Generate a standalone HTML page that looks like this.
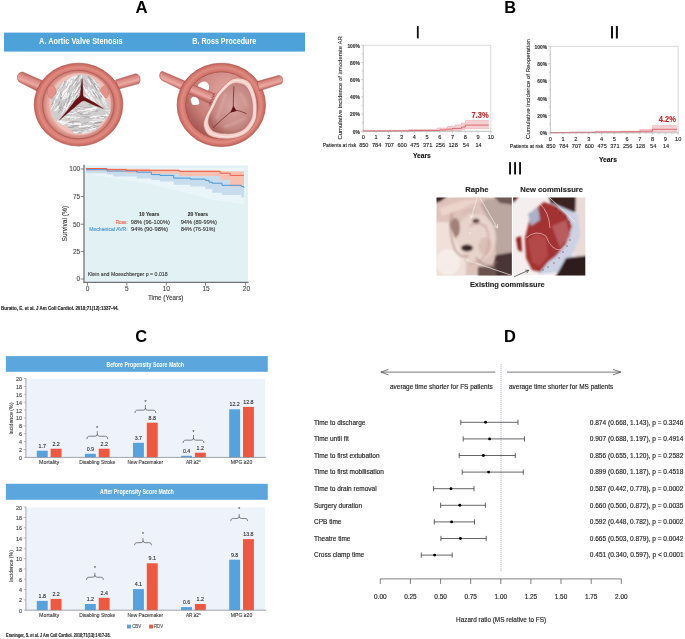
<!DOCTYPE html>
<html><head><meta charset="utf-8"><style>
html,body{margin:0;padding:0;background:#fff;}
body{width:685px;height:639px;overflow:hidden;}
svg{display:block;font-family:"Liberation Sans",sans-serif;will-change:transform;}
</style></head><body>
<svg width="685" height="639" viewBox="0 0 685 639">
<defs>
<linearGradient id="tubeG" x1="0" y1="0" x2="0" y2="1">
<stop offset="0" stop-color="#c96b63"/><stop offset="0.4" stop-color="#f0aaa0"/><stop offset="1" stop-color="#c7665e"/>
</linearGradient>
<radialGradient id="ringG" cx="0.5" cy="0.45" r="0.55">
<stop offset="0.8" stop-color="#e69388"/><stop offset="1" stop-color="#d77a70"/>
</radialGradient>
</defs>
<rect width="685" height="639" fill="#fff"/>

<!-- ============ PANEL A ============ -->
<text x="135.4" y="12.7" font-size="16.8" font-weight="bold" fill="#000">A</text>
<rect x="4" y="32.6" width="301" height="19" fill="#4da3d9"/>
<text x="39.1" y="43.8" font-size="8.2" font-weight="bold" fill="#fff" textLength="83.6" lengthAdjust="spacingAndGlyphs">A. Aortic Valve Stenosis</text>
<text x="192.3" y="43.8" font-size="8.2" font-weight="bold" fill="#fff" textLength="63.9" lengthAdjust="spacingAndGlyphs">B. Ross Procedure</text>

<!--VALVES_START-->
<defs>
<linearGradient id="tubeL" x1="0" y1="0" x2="0" y2="1">
<stop offset="0" stop-color="#c4665e"/><stop offset="0.35" stop-color="#f2aaa0"/><stop offset="0.7" stop-color="#dd867c"/><stop offset="1" stop-color="#bf5f57"/>
</linearGradient>
<linearGradient id="tg1" gradientUnits="userSpaceOnUse" x1="31.9" y1="76.1" x2="27.85" y2="86.25"><stop offset="0" stop-color="#bf6660"/><stop offset="0.25" stop-color="#d98a83"/><stop offset="0.65" stop-color="#eba9a2"/><stop offset="1" stop-color="#c26b64"/></linearGradient>
<linearGradient id="tg2" gradientUnits="userSpaceOnUse" x1="126" y1="76.6" x2="128.6" y2="86.1"><stop offset="0" stop-color="#bf6660"/><stop offset="0.25" stop-color="#d98a83"/><stop offset="0.65" stop-color="#eba9a2"/><stop offset="1" stop-color="#c26b64"/></linearGradient>
<linearGradient id="tg3" gradientUnits="userSpaceOnUse" x1="188.3" y1="82.4" x2="184.6" y2="91.2"><stop offset="0" stop-color="#bf6660"/><stop offset="0.25" stop-color="#d98a83"/><stop offset="0.65" stop-color="#eba9a2"/><stop offset="1" stop-color="#c26b64"/></linearGradient>
<linearGradient id="tg4" gradientUnits="userSpaceOnUse" x1="267.9" y1="78.5" x2="270.4" y2="87.2"><stop offset="0" stop-color="#bf6660"/><stop offset="0.25" stop-color="#d98a83"/><stop offset="0.65" stop-color="#eba9a2"/><stop offset="1" stop-color="#c26b64"/></linearGradient>
<radialGradient id="inner1" cx="0.5" cy="0.5" r="0.5">
<stop offset="0.6" stop-color="#f0c2ba"/><stop offset="0.88" stop-color="#e4a39b"/><stop offset="1" stop-color="#c8776f"/>
</radialGradient>
<radialGradient id="inner2" cx="0.6" cy="0.3" r="0.7">
<stop offset="0.15" stop-color="#dea09a"/><stop offset="0.7" stop-color="#c97e78"/><stop offset="1" stop-color="#a85a54"/>
</radialGradient>
<radialGradient id="ring" cx="0.5" cy="0.5" r="0.5">
<stop offset="0.8" stop-color="#cd7067"/><stop offset="0.9" stop-color="#e08a81"/><stop offset="1" stop-color="#c4635b"/>
</radialGradient>
<radialGradient id="graft" cx="0.55" cy="0.45" r="0.6">
<stop offset="0.1" stop-color="#d6a09c"/><stop offset="0.75" stop-color="#c48682"/><stop offset="1" stop-color="#a8625e"/>
</radialGradient>
<clipPath id="calc"><path d="M82.2 74.8 C85.0 74.8 87.4 75.2 89.7 76.4 C92.0 77.6 94.5 80.1 96.1 81.7 C97.7 83.3 98.7 84.4 99.3 86.0 C99.9 87.6 98.9 89.3 99.8 91.3 C100.7 93.2 103.1 95.8 104.6 97.7 C106.1 99.7 107.8 100.9 108.8 103.0 C109.8 105.1 110.4 108.5 110.4 110.4 C110.4 112.4 109.8 113.1 108.8 114.7 C107.8 116.3 106.0 118.6 104.6 120.0 C103.2 121.4 101.4 122.0 100.3 123.2 C99.2 124.4 99.1 126.2 98.2 127.4 C97.3 128.6 96.8 129.7 95.0 130.6 C93.2 131.5 90.1 132.3 87.6 132.8 C85.1 133.3 82.4 133.8 80.1 133.8 C77.8 133.8 75.3 133.5 73.7 132.8 C72.1 132.1 71.7 130.7 70.5 129.6 C69.3 128.5 67.9 127.3 66.3 126.4 C64.7 125.5 62.8 125.4 61.0 124.3 C59.2 123.2 57.1 121.6 55.6 120.0 C54.1 118.4 52.7 116.8 51.9 114.7 C51.1 112.6 51.0 109.5 50.9 107.2 C50.8 104.9 51.0 102.7 51.4 100.9 C51.8 99.1 52.6 97.8 53.5 96.6 C54.4 95.3 56.1 94.8 56.7 93.4 C57.3 92.0 56.5 89.7 57.2 88.1 C57.9 86.5 59.5 85.1 61.0 83.8 C62.5 82.5 64.3 81.3 66.3 80.1 C68.2 78.9 70.0 77.3 72.7 76.4 C75.4 75.5 79.4 74.8 82.2 74.8Z"/></clipPath>
<clipPath id="leafL"><path d="M40 65 L82.2 65 L82.2 79 L80 97 L59 120 L40 128Z"/></clipPath>
<clipPath id="leafR"><path d="M82.2 65 L120 65 L120 112 L103 109 L84 99 L82.2 79Z"/></clipPath>
<clipPath id="leafB"><path d="M40 128 L59 120 L80 99 L103 109 L120 112 L120 145 L40 145Z"/></clipPath>
<pattern id="streak" width="7" height="3.3" patternUnits="userSpaceOnUse">
<rect width="7" height="3.3" fill="#cbc9ca"/>
<path d="M0 1 q1.75 -0.9 3.5 0 t3.5 0" fill="none" stroke="#f6f5f5" stroke-width="1.05"/>
<path d="M0 2.5 q1.75 0.7 3.5 0 t3.5 0" fill="none" stroke="#9b999a" stroke-width="0.45"/>
</pattern>
</defs>
<!-- valve 1 tubes -->
<path d="M22.5 72 L42 80.5 L37 91 L19.4 82 Q16.2 79 17.6 75.4 Q19.5 72 22.5 72Z" fill="url(#tg1)" stroke="#a54e47" stroke-width="0.5"/>
<path d="M135.7 73.8 L115.5 80 L118.6 89 L138.8 83.6 Q141.2 80.5 139.6 76.4 Q138 73.8 135.7 73.8Z" fill="url(#tg2)" stroke="#a54e47" stroke-width="0.5"/>
<ellipse cx="78.5" cy="104.6" rx="44.3" ry="41.4" fill="url(#ring)" stroke="#ad554c" stroke-width="0.7"/>
<ellipse cx="78.4" cy="104.6" rx="35.8" ry="34.3" fill="url(#inner1)" stroke="#b05b53" stroke-width="0.9"/>
<ellipse cx="80" cy="104" rx="31" ry="31" fill="#f3c9c2" opacity="0.7"/>
<ellipse cx="51.7" cy="92" rx="4.4" ry="6.4" fill="#e3928a" stroke="#c2706a" stroke-width="0.5"/>
<ellipse cx="104.5" cy="92.3" rx="4.2" ry="6.2" fill="#e3928a" stroke="#c2706a" stroke-width="0.5"/>
<g clip-path="url(#calc)" fill="none" stroke-linecap="round">
<rect x="48" y="72" width="66" height="64" fill="#cfcdce"/>
<g clip-path="url(#leafL)">
<path d="M51.2 95.1 L52.4 93.9 L53.0 92.5 L53.4 90.9 L54.6 89.7 L54.9 88.1" stroke="#f7f6f6" stroke-width="0.74"/>
<path d="M55.6 108.0 L56.5 106.5 L57.7 105.1 L58.8 103.6 L59.3 101.9 L60.0 100.2" stroke="#8f8c8d" stroke-width="0.36"/>
<path d="M65.7 78.6 L66.3 77.8 L67.2 77.2 L67.1 76.1 L67.9 75.4 L68.5 74.6" stroke="#f7f6f6" stroke-width="1.03"/>
<path d="M44.0 103.1 L44.2 102.0 L44.6 101.1 L45.3 100.3 L45.7 99.3 L46.1 98.3" stroke="#8f8c8d" stroke-width="0.52"/>
<path d="M63.9 105.5 L64.4 104.1 L64.7 102.7 L66.0 101.7 L65.9 100.1 L66.8 98.9" stroke="#8f8c8d" stroke-width="0.39"/>
<path d="M51.4 87.7 L52.0 86.2 L53.0 84.9 L53.2 83.3 L54.3 82.0 L55.0 80.6" stroke="#8f8c8d" stroke-width="0.46"/>
<path d="M86.7 90.6 L86.8 89.1 L88.0 88.2 L88.6 87.0 L89.5 85.9 L90.0 84.6" stroke="#f7f6f6" stroke-width="0.93"/>
<path d="M53.7 80.8 L54.3 79.6 L54.9 78.4 L56.1 77.5 L56.2 76.0 L56.9 74.9" stroke="#f7f6f6" stroke-width="1.22"/>
<path d="M56.8 109.1 L57.5 107.8 L58.2 106.5 L58.4 105.0 L59.2 103.8 L59.8 102.4" stroke="#8f8c8d" stroke-width="0.59"/>
<path d="M48.9 101.7 L49.6 100.9 L50.2 100.0 L50.5 98.9 L50.7 97.8 L51.6 97.1" stroke="#f7f6f6" stroke-width="1.04"/>
<path d="M80.7 82.3 L81.4 81.0 L81.5 79.5 L82.9 78.6 L83.5 77.3 L84.2 76.1" stroke="#8f8c8d" stroke-width="0.45"/>
<path d="M51.1 91.7 L51.9 90.3 L52.7 89.0 L53.4 87.6 L54.3 86.3 L54.8 84.8" stroke="#f7f6f6" stroke-width="0.79"/>
<path d="M54.5 106.9 L54.7 106.1 L54.7 105.1 L55.1 104.5 L55.6 103.8 L56.0 103.0" stroke="#f7f6f6" stroke-width="1.21"/>
<path d="M73.8 76.8 L74.5 75.6 L75.3 74.5 L75.9 73.2 L77.1 72.3 L77.1 70.8" stroke="#f7f6f6" stroke-width="1.27"/>
<path d="M54.9 87.8 L56.0 86.8 L57.1 85.7 L57.7 84.4 L58.2 83.0 L58.5 81.5" stroke="#f7f6f6" stroke-width="0.80"/>
<path d="M72.0 85.9 L72.7 84.3 L74.0 83.0 L75.0 81.6 L75.7 80.0 L76.5 78.4" stroke="#8f8c8d" stroke-width="0.53"/>
<path d="M61.0 104.7 L61.6 103.6 L62.4 102.7 L62.9 101.6 L63.9 100.7 L64.7 99.7" stroke="#f7f6f6" stroke-width="1.26"/>
<path d="M89.4 85.3 L90.0 84.2 L90.5 83.1 L91.1 82.0 L92.1 81.1 L92.9 80.2" stroke="#8f8c8d" stroke-width="0.47"/>
<path d="M78.5 94.7 L79.2 94.1 L79.5 93.2 L79.9 92.4 L80.1 91.5 L80.2 90.5" stroke="#8f8c8d" stroke-width="0.43"/>
<path d="M86.6 92.3 L87.6 91.4 L88.0 90.2 L88.1 88.8 L88.7 87.7 L89.3 86.6" stroke="#8f8c8d" stroke-width="0.55"/>
<path d="M69.9 113.1 L70.5 111.2 L71.6 109.5 L72.2 107.6 L73.0 105.8 L74.8 104.5" stroke="#8f8c8d" stroke-width="0.48"/>
<path d="M72.3 78.7 L72.7 76.8 L73.6 75.2 L74.5 73.6 L75.3 71.9 L76.4 70.5" stroke="#f7f6f6" stroke-width="0.95"/>
<path d="M72.1 114.9 L72.8 113.9 L73.6 113.0 L73.8 111.7 L74.8 110.8 L75.0 109.6" stroke="#f7f6f6" stroke-width="1.01"/>
<path d="M54.6 110.8 L55.8 110.2 L55.7 109.0 L56.5 108.3 L57.2 107.5 L57.5 106.5" stroke="#f7f6f6" stroke-width="1.01"/>
<path d="M76.1 97.9 L76.3 96.9 L76.8 96.1 L77.6 95.5 L77.8 94.6 L78.3 93.8" stroke="#8f8c8d" stroke-width="0.58"/>
<path d="M68.5 98.9 L69.3 97.8 L69.8 96.4 L70.5 95.2 L71.1 93.9 L72.2 92.9" stroke="#8f8c8d" stroke-width="0.57"/>
<path d="M67.1 75.5 L67.7 74.2 L67.7 72.6 L68.4 71.2 L69.4 70.1 L69.7 68.6" stroke="#f7f6f6" stroke-width="0.74"/>
<path d="M77.9 93.7 L79.3 92.3 L80.1 90.6 L80.5 88.7 L82.1 87.4 L83.0 85.7" stroke="#f7f6f6" stroke-width="1.27"/>
<path d="M64.0 98.5 L64.3 96.5 L65.5 94.8 L66.5 93.1 L67.3 91.3 L68.1 89.5" stroke="#f7f6f6" stroke-width="1.13"/>
<path d="M58.3 112.7 L59.2 111.6 L60.1 110.6 L60.6 109.4 L60.8 108.0 L62.2 107.2" stroke="#8f8c8d" stroke-width="0.59"/>
<path d="M51.4 105.1 L51.3 104.1 L51.6 103.3 L52.3 102.7 L53.1 102.2 L53.4 101.4" stroke="#f7f6f6" stroke-width="0.79"/>
<path d="M75.8 81.2 L76.5 79.7 L77.8 78.6 L78.4 77.0 L78.8 75.4 L80.4 74.4" stroke="#8f8c8d" stroke-width="0.55"/>
<path d="M69.8 115.9 L69.9 114.9 L70.2 114.1 L70.8 113.4 L71.5 112.8 L71.4 111.7" stroke="#f7f6f6" stroke-width="1.02"/>
<path d="M48.3 97.4 L48.9 96.6 L49.4 95.8 L49.9 94.9 L50.8 94.2 L50.8 93.2" stroke="#f7f6f6" stroke-width="0.81"/>
<path d="M47.4 92.0 L48.5 91.4 L48.9 90.3 L49.1 89.2 L49.9 88.4 L50.8 87.6" stroke="#f7f6f6" stroke-width="1.19"/>
<path d="M64.5 97.3 L65.4 95.7 L66.4 94.2 L67.5 92.8 L67.8 90.9 L69.1 89.5" stroke="#8f8c8d" stroke-width="0.51"/>
<path d="M59.0 95.6 L59.4 94.8 L60.4 94.4 L60.4 93.4 L60.7 92.6 L61.0 91.8" stroke="#8f8c8d" stroke-width="0.57"/>
<path d="M62.1 85.2 L62.7 84.3 L63.0 83.2 L63.8 82.4 L64.1 81.3 L65.2 80.7" stroke="#8f8c8d" stroke-width="0.49"/>
<path d="M75.9 111.8 L76.1 110.6 L77.0 109.8 L77.6 108.8 L78.2 107.8 L78.5 106.6" stroke="#f7f6f6" stroke-width="0.70"/>
<path d="M48.1 96.2 L48.7 95.0 L49.6 94.0 L50.1 92.9 L51.0 91.9 L51.6 90.8" stroke="#8f8c8d" stroke-width="0.51"/>
<path d="M82.0 93.7 L83.1 92.9 L83.0 91.4 L84.1 90.5 L84.6 89.4 L84.7 88.0" stroke="#8f8c8d" stroke-width="0.57"/>
<path d="M75.5 94.3 L76.7 92.9 L77.5 91.3 L78.6 89.9 L79.4 88.3 L80.3 86.8" stroke="#8f8c8d" stroke-width="0.57"/>
<path d="M75.2 91.6 L75.8 90.7 L76.5 89.8 L76.7 88.8 L77.9 88.2 L78.2 87.1" stroke="#8f8c8d" stroke-width="0.51"/>
<path d="M69.3 88.6 L69.6 87.8 L69.8 87.0 L70.2 86.3 L70.7 85.7 L70.6 84.7" stroke="#8f8c8d" stroke-width="0.41"/>
<path d="M50.3 105.9 L51.6 104.7 L52.5 103.3 L52.9 101.6 L53.6 100.1 L54.5 98.7" stroke="#8f8c8d" stroke-width="0.54"/>
<path d="M72.4 93.1 L72.9 92.4 L73.8 91.8 L73.8 90.8 L74.5 90.2 L74.4 89.1" stroke="#f7f6f6" stroke-width="0.86"/>
<path d="M75.2 92.1 L76.1 90.8 L76.8 89.3 L77.6 87.9 L78.0 86.3 L79.5 85.2" stroke="#f7f6f6" stroke-width="1.29"/>
<path d="M59.1 71.6 L59.9 70.5 L60.1 69.0 L60.6 67.8 L61.1 66.5 L62.4 65.7" stroke="#f7f6f6" stroke-width="1.05"/>
<path d="M59.7 107.9 L61.2 106.5 L61.9 104.6 L63.1 103.1 L63.9 101.3 L64.4 99.4" stroke="#8f8c8d" stroke-width="0.47"/>
<path d="M41.3 103.4 L41.8 102.1 L42.3 100.8 L43.1 99.6 L43.7 98.4 L44.9 97.4" stroke="#f7f6f6" stroke-width="1.15"/>
<path d="M60.5 76.7 L61.5 75.1 L61.9 73.1 L62.9 71.5 L63.8 69.8 L65.2 68.4" stroke="#8f8c8d" stroke-width="0.44"/>
<path d="M57.2 93.6 L58.2 93.1 L58.1 92.1 L59.1 91.7 L58.9 90.6 L59.3 89.8" stroke="#f7f6f6" stroke-width="0.81"/>
<path d="M78.4 107.3 L79.1 105.6 L80.2 104.1 L81.1 102.5 L81.7 100.6 L82.7 99.1" stroke="#f7f6f6" stroke-width="1.14"/>
<path d="M72.9 100.9 L73.4 99.4 L75.0 98.4 L75.0 96.7 L76.0 95.4 L76.7 94.0" stroke="#f7f6f6" stroke-width="1.14"/>
<path d="M67.1 74.0 L68.1 72.8 L68.7 71.3 L69.3 69.8 L70.0 68.4 L70.8 67.0" stroke="#8f8c8d" stroke-width="0.47"/>
<path d="M73.6 111.7 L74.3 109.8 L75.3 108.1 L76.1 106.3 L77.3 104.6 L78.0 102.8" stroke="#f7f6f6" stroke-width="0.86"/>
<path d="M79.5 99.0 L80.3 97.5 L81.2 96.1 L81.9 94.5 L82.7 93.0 L83.2 91.4" stroke="#f7f6f6" stroke-width="1.28"/>
<path d="M59.4 108.4 L59.6 106.8 L60.3 105.4 L61.1 104.0 L61.9 102.7 L62.7 101.4" stroke="#8f8c8d" stroke-width="0.56"/>
<path d="M58.0 73.8 L58.5 73.2 L58.6 72.3 L59.1 71.6 L58.9 70.6 L59.7 70.0" stroke="#8f8c8d" stroke-width="0.56"/>
<path d="M87.3 90.2 L87.9 89.3 L88.7 88.5 L89.4 87.6 L90.1 86.8 L90.5 85.7" stroke="#8f8c8d" stroke-width="0.54"/>
<path d="M67.1 97.5 L67.0 96.5 L68.0 96.1 L68.2 95.2 L68.3 94.3 L68.5 93.5" stroke="#f7f6f6" stroke-width="1.08"/>
<path d="M57.4 81.4 L57.9 80.7 L58.1 79.8 L58.4 79.0 L59.2 78.4 L59.0 77.3" stroke="#f7f6f6" stroke-width="0.98"/>
<path d="M79.2 81.2 L79.9 79.5 L80.7 77.8 L82.2 76.5 L82.9 74.8 L83.4 72.9" stroke="#f7f6f6" stroke-width="1.00"/>
<path d="M66.9 87.6 L67.6 86.7 L67.5 85.4 L67.9 84.3 L68.7 83.5 L69.3 82.6" stroke="#8f8c8d" stroke-width="0.40"/>
<path d="M78.9 88.4 L80.3 87.5 L80.3 86.0 L81.4 85.0 L81.6 83.5 L82.2 82.2" stroke="#8f8c8d" stroke-width="0.42"/>
<path d="M74.1 78.8 L74.8 78.0 L75.5 77.2 L76.2 76.5 L76.0 75.2 L76.7 74.4" stroke="#f7f6f6" stroke-width="1.28"/>
<path d="M44.9 100.0 L45.8 99.5 L46.2 98.7 L46.5 97.9 L47.1 97.2 L47.5 96.4" stroke="#f7f6f6" stroke-width="0.81"/>
<path d="M82.2 83.8 L82.3 83.0 L82.7 82.2 L83.0 81.5 L83.3 80.7 L83.5 79.8" stroke="#f7f6f6" stroke-width="0.91"/>
<path d="M62.3 72.4 L63.4 70.8 L64.7 69.2 L65.6 67.5 L66.2 65.6 L66.8 63.7" stroke="#f7f6f6" stroke-width="0.92"/>
<path d="M64.5 75.2 L64.3 73.7 L65.2 72.8 L66.1 71.9 L66.7 70.8 L66.6 69.3" stroke="#f7f6f6" stroke-width="0.74"/>
<path d="M66.5 76.2 L66.8 74.5 L67.6 73.0 L69.0 71.8 L69.5 70.1 L69.9 68.5" stroke="#8f8c8d" stroke-width="0.43"/>
<path d="M46.4 94.7 L46.9 93.1 L48.0 91.7 L48.0 89.8 L49.0 88.4 L50.0 87.0" stroke="#8f8c8d" stroke-width="0.59"/>
<path d="M55.9 94.8 L57.0 93.8 L56.9 92.3 L58.1 91.5 L58.6 90.3 L59.3 89.1" stroke="#8f8c8d" stroke-width="0.50"/>
<path d="M57.3 98.2 L57.2 96.7 L57.9 95.7 L59.0 94.9 L59.1 93.6 L59.5 92.4" stroke="#f7f6f6" stroke-width="1.03"/>
<path d="M78.4 109.5 L78.7 107.5 L79.4 105.8 L80.3 104.2 L81.5 102.7 L82.5 101.2" stroke="#f7f6f6" stroke-width="0.84"/>
<path d="M68.5 100.1 L69.3 98.7 L69.9 97.2 L70.2 95.5 L71.6 94.4 L71.9 92.8" stroke="#8f8c8d" stroke-width="0.44"/>
<path d="M60.7 81.4 L61.1 80.4 L62.3 79.8 L62.5 78.6 L62.8 77.6 L63.4 76.6" stroke="#8f8c8d" stroke-width="0.48"/>
<path d="M71.2 109.9 L71.2 108.1 L72.2 106.9 L73.3 105.7 L74.0 104.3 L74.8 102.9" stroke="#f7f6f6" stroke-width="0.88"/>
<path d="M49.1 103.2 L50.3 101.7 L50.7 99.7 L52.1 98.2 L52.6 96.2 L53.4 94.4" stroke="#8f8c8d" stroke-width="0.59"/>
<path d="M61.4 110.4 L62.3 109.1 L62.8 107.7 L63.6 106.3 L64.3 105.0 L65.4 103.8" stroke="#8f8c8d" stroke-width="0.40"/>
<path d="M51.1 109.2 L51.9 107.8 L52.6 106.3 L53.9 105.2 L54.4 103.7 L54.7 102.0" stroke="#f7f6f6" stroke-width="0.94"/>
<path d="M71.1 95.4 L72.0 94.9 L72.1 93.9 L72.5 93.1 L72.9 92.3 L73.9 91.8" stroke="#f7f6f6" stroke-width="1.04"/>
<path d="M61.1 98.9 L61.4 96.9 L62.1 95.2 L63.5 93.9 L63.9 92.0 L64.5 90.3" stroke="#8f8c8d" stroke-width="0.46"/>
<path d="M69.0 82.1 L69.6 80.3 L70.4 78.6 L71.7 77.2 L72.7 75.6 L73.8 74.1" stroke="#f7f6f6" stroke-width="1.07"/>
<path d="M63.5 99.5 L64.2 98.8 L65.0 98.1 L64.7 96.9 L65.5 96.2 L66.3 95.5" stroke="#8f8c8d" stroke-width="0.40"/>
<path d="M73.1 115.7 L73.6 113.7 L75.3 112.4 L75.7 110.4 L77.1 108.9 L77.8 107.0" stroke="#8f8c8d" stroke-width="0.39"/>
<path d="M62.8 80.4 L63.4 79.2 L63.5 77.8 L64.1 76.7 L64.9 75.6 L65.6 74.5" stroke="#f7f6f6" stroke-width="0.77"/>
<path d="M68.0 107.5 L69.3 106.1 L70.4 104.5 L70.6 102.5 L72.2 101.3 L72.5 99.3" stroke="#8f8c8d" stroke-width="0.49"/>
<path d="M62.3 87.3 L62.8 86.1 L63.6 85.0 L64.0 83.8 L64.6 82.6 L64.9 81.3" stroke="#8f8c8d" stroke-width="0.47"/>
<path d="M69.4 108.8 L69.9 107.1 L71.0 105.7 L71.5 104.0 L72.3 102.5 L73.4 101.1" stroke="#f7f6f6" stroke-width="0.97"/>
<path d="M51.2 86.7 L52.5 85.6 L53.3 84.2 L53.8 82.7 L54.1 81.1 L55.3 80.0" stroke="#f7f6f6" stroke-width="1.27"/>
<path d="M70.7 114.0 L71.7 112.3 L72.1 110.2 L73.8 108.8 L74.3 106.8 L75.6 105.3" stroke="#8f8c8d" stroke-width="0.39"/>
<path d="M85.0 92.0 L85.7 91.4 L85.6 90.4 L86.7 90.0 L86.6 88.9 L87.4 88.4" stroke="#f7f6f6" stroke-width="1.00"/>
<path d="M64.6 75.2 L65.0 74.2 L65.3 73.1 L65.9 72.1 L66.4 71.1 L67.6 70.5" stroke="#8f8c8d" stroke-width="0.57"/>
<path d="M68.9 111.5 L69.4 110.7 L69.6 109.8 L70.5 109.2 L70.6 108.2 L71.1 107.4" stroke="#8f8c8d" stroke-width="0.38"/>
<path d="M79.6 79.9 L79.8 78.5 L81.0 77.8 L81.2 76.4 L81.6 75.2 L82.6 74.3" stroke="#f7f6f6" stroke-width="0.81"/>
<path d="M56.0 78.6 L57.2 77.3 L58.3 75.8 L58.8 74.1 L59.7 72.5 L60.2 70.8" stroke="#f7f6f6" stroke-width="0.72"/>
<path d="M63.1 109.4 L64.1 108.4 L64.0 106.8 L64.7 105.7 L65.7 104.8 L65.8 103.3" stroke="#f7f6f6" stroke-width="0.91"/>
<path d="M54.1 106.5 L54.6 105.6 L54.8 104.5 L55.7 103.7 L56.1 102.7 L56.3 101.6" stroke="#8f8c8d" stroke-width="0.41"/>
<path d="M46.9 100.7 L47.6 99.3 L48.0 97.7 L48.6 96.3 L49.1 94.8 L50.4 93.7" stroke="#8f8c8d" stroke-width="0.44"/>
<path d="M67.2 89.0 L67.6 87.1 L69.1 85.7 L69.3 83.6 L70.6 82.1 L71.4 80.4" stroke="#f7f6f6" stroke-width="0.74"/>
<path d="M56.1 77.1 L56.1 75.5 L56.8 74.2 L57.9 73.1 L58.5 71.8 L59.3 70.5" stroke="#8f8c8d" stroke-width="0.39"/>
<path d="M56.4 98.5 L56.7 97.7 L57.1 96.9 L56.8 95.9 L58.0 95.5 L58.3 94.7" stroke="#f7f6f6" stroke-width="1.15"/>
<path d="M56.2 91.9 L56.4 91.0 L57.1 90.3 L57.9 89.7 L58.3 88.9 L58.9 88.1" stroke="#8f8c8d" stroke-width="0.42"/>
<path d="M65.0 92.0 L65.6 90.4 L66.7 89.0 L67.8 87.6 L68.0 85.7 L69.4 84.5" stroke="#f7f6f6" stroke-width="0.86"/>
<path d="M69.0 108.6 L69.6 106.7 L70.9 105.2 L71.4 103.2 L72.2 101.5 L73.7 100.1" stroke="#8f8c8d" stroke-width="0.52"/>
<path d="M84.6 97.4 L85.1 96.1 L85.9 95.0 L86.2 93.6 L87.1 92.6 L87.6 91.3" stroke="#f7f6f6" stroke-width="0.83"/>
<path d="M54.6 83.4 L55.4 81.6 L56.3 80.0 L57.9 78.7 L58.3 76.8 L59.0 75.0" stroke="#f7f6f6" stroke-width="0.72"/>
<path d="M74.1 90.6 L74.3 88.8 L75.5 87.6 L76.1 86.1 L77.2 84.8 L78.0 83.4" stroke="#8f8c8d" stroke-width="0.37"/>
<path d="M85.7 88.8 L86.7 87.2 L87.6 85.4 L88.4 83.7 L90.0 82.3 L90.9 80.6" stroke="#8f8c8d" stroke-width="0.56"/>
<path d="M61.4 86.6 L62.4 86.1 L62.3 85.0 L62.8 84.2 L63.4 83.5 L63.4 82.5" stroke="#f7f6f6" stroke-width="0.87"/>
<path d="M66.3 85.4 L66.4 84.1 L67.3 83.2 L67.6 82.1 L67.7 80.7 L68.6 79.9" stroke="#f7f6f6" stroke-width="1.16"/>
<path d="M69.4 103.7 L70.6 102.8 L70.6 101.1 L71.9 100.2 L72.1 98.6 L72.6 97.3" stroke="#f7f6f6" stroke-width="1.16"/>
<path d="M59.2 69.7 L60.1 68.7 L60.2 67.1 L61.2 66.1 L61.7 64.8 L62.8 63.8" stroke="#f7f6f6" stroke-width="1.27"/>
<path d="M52.9 97.8 L53.3 96.2 L54.5 95.0 L54.8 93.3 L56.2 92.2 L56.9 90.7" stroke="#8f8c8d" stroke-width="0.51"/>
<path d="M60.5 98.6 L60.4 97.1 L61.7 96.4 L61.5 94.8 L62.3 93.8 L62.9 92.7" stroke="#8f8c8d" stroke-width="0.48"/>
<path d="M75.9 105.7 L76.5 104.8 L77.2 104.0 L77.7 103.0 L78.1 102.0 L78.3 100.9" stroke="#f7f6f6" stroke-width="0.79"/>
<path d="M77.3 85.5 L78.3 84.1 L79.4 82.8 L80.0 81.2 L80.4 79.5 L81.5 78.1" stroke="#8f8c8d" stroke-width="0.41"/>
<path d="M54.2 102.7 L54.4 100.9 L55.1 99.5 L56.0 98.1 L56.8 96.7 L57.8 95.3" stroke="#f7f6f6" stroke-width="0.90"/>
<path d="M74.9 113.8 L76.5 112.7 L76.5 110.9 L77.5 109.5 L78.8 108.3 L79.5 106.8" stroke="#8f8c8d" stroke-width="0.46"/>
<path d="M64.4 107.9 L65.0 107.2 L65.1 106.2 L65.9 105.6 L66.7 104.9 L67.0 104.1" stroke="#f7f6f6" stroke-width="1.08"/>
<path d="M53.8 90.2 L54.9 89.0 L55.7 87.7 L56.0 86.2 L56.9 84.9 L57.7 83.6" stroke="#f7f6f6" stroke-width="0.84"/>
<path d="M82.4 93.7 L83.4 92.2 L84.0 90.6 L84.8 89.1 L85.5 87.4 L86.1 85.9" stroke="#8f8c8d" stroke-width="0.37"/>
<path d="M73.6 102.7 L74.0 101.0 L75.0 99.7 L75.8 98.2 L76.7 96.8 L77.3 95.3" stroke="#8f8c8d" stroke-width="0.58"/>
<path d="M64.9 108.8 L65.8 107.3 L67.0 106.0 L67.0 104.0 L68.3 102.7 L68.7 101.0" stroke="#8f8c8d" stroke-width="0.59"/>
<path d="M53.7 87.6 L54.6 86.4 L55.1 85.0 L55.9 83.7 L56.8 82.5 L57.2 81.0" stroke="#f7f6f6" stroke-width="1.27"/>
<path d="M66.6 108.5 L66.7 107.1 L68.0 106.3 L68.1 104.9 L68.4 103.7 L69.2 102.6" stroke="#f7f6f6" stroke-width="0.71"/>
<path d="M61.8 96.5 L62.5 95.0 L63.2 93.5 L64.5 92.3 L65.4 91.0 L65.8 89.3" stroke="#f7f6f6" stroke-width="1.18"/>
<path d="M55.1 94.1 L55.5 93.3 L55.8 92.3 L56.1 91.4 L56.7 90.6 L56.8 89.6" stroke="#8f8c8d" stroke-width="0.44"/>
<path d="M78.7 95.5 L79.4 93.8 L80.5 92.4 L80.9 90.6 L82.4 89.4 L82.8 87.6" stroke="#8f8c8d" stroke-width="0.42"/>
<path d="M55.6 95.1 L56.0 93.8 L57.3 93.0 L57.5 91.6 L58.1 90.5 L58.7 89.3" stroke="#f7f6f6" stroke-width="0.96"/>
<path d="M74.0 93.0 L74.5 91.9 L74.4 90.5 L75.7 89.7 L76.3 88.7 L76.8 87.5" stroke="#f7f6f6" stroke-width="1.20"/>
<path d="M53.5 82.3 L53.6 81.5 L53.6 80.5 L53.9 79.8 L54.3 79.1 L54.8 78.4" stroke="#8f8c8d" stroke-width="0.44"/>
<path d="M72.0 113.9 L73.5 112.7 L74.1 111.1 L75.0 109.6 L75.8 108.0 L76.8 106.6" stroke="#8f8c8d" stroke-width="0.56"/>
<path d="M66.7 109.1 L67.1 107.6 L68.1 106.6 L68.5 105.2 L68.9 103.8 L69.6 102.5" stroke="#f7f6f6" stroke-width="1.00"/>
<path d="M56.7 110.0 L57.1 109.2 L57.6 108.3 L58.4 107.6 L58.1 106.4 L59.2 105.9" stroke="#f7f6f6" stroke-width="1.04"/>
<path d="M79.9 94.9 L80.9 94.0 L80.7 92.5 L81.8 91.7 L82.4 90.6 L82.4 89.2" stroke="#8f8c8d" stroke-width="0.52"/>
<path d="M68.7 76.9 L69.6 75.1 L70.9 73.6 L71.1 71.4 L72.6 70.0 L73.5 68.2" stroke="#f7f6f6" stroke-width="1.22"/>
<path d="M62.9 99.4 L63.1 97.9 L64.0 96.7 L64.6 95.5 L65.4 94.3 L66.3 93.1" stroke="#f7f6f6" stroke-width="1.20"/>
<path d="M64.3 98.5 L65.3 97.7 L65.5 96.5 L66.2 95.6 L66.3 94.4 L66.8 93.4" stroke="#f7f6f6" stroke-width="1.05"/>
<path d="M77.8 95.1 L78.3 94.5 L78.4 93.6 L78.4 92.6 L79.0 92.0 L79.1 91.1" stroke="#f7f6f6" stroke-width="1.25"/>
<path d="M73.4 94.0 L74.0 92.3 L74.8 90.8 L75.6 89.3 L76.5 87.8 L77.2 86.2" stroke="#8f8c8d" stroke-width="0.40"/>
<path d="M67.4 88.2 L68.3 86.7 L69.0 85.1 L70.5 84.0 L71.4 82.5 L72.0 80.9" stroke="#f7f6f6" stroke-width="1.19"/>
<path d="M73.2 85.8 L73.8 84.9 L74.2 83.9 L74.9 83.0 L75.6 82.1 L76.3 81.2" stroke="#f7f6f6" stroke-width="1.04"/>
<path d="M45.3 104.9 L46.4 103.5 L46.9 101.7 L47.3 99.9 L48.5 98.5 L49.5 97.0" stroke="#8f8c8d" stroke-width="0.60"/>
<path d="M62.9 94.5 L62.9 93.4 L63.3 92.6 L63.6 91.7 L64.1 90.9 L65.1 90.4" stroke="#f7f6f6" stroke-width="1.28"/>
<path d="M69.6 115.6 L70.7 115.1 L70.7 114.0 L71.6 113.4 L71.5 112.3 L71.9 111.4" stroke="#8f8c8d" stroke-width="0.53"/>
<path d="M80.1 86.4 L80.6 85.6 L80.8 84.7 L81.6 84.1 L81.5 83.0 L82.5 82.6" stroke="#8f8c8d" stroke-width="0.35"/>
<path d="M61.3 114.5 L62.3 113.0 L63.6 111.6 L63.9 109.8 L65.3 108.6 L65.8 106.8" stroke="#f7f6f6" stroke-width="0.92"/>
<path d="M65.1 91.2 L66.5 90.0 L66.9 88.4 L67.9 87.1 L68.6 85.7 L69.2 84.2" stroke="#f7f6f6" stroke-width="1.17"/>
<path d="M83.2 84.0 L83.7 82.6 L85.2 81.7 L85.7 80.3 L86.5 79.0 L86.7 77.5" stroke="#8f8c8d" stroke-width="0.59"/>
<path d="M75.4 85.0 L76.3 84.2 L76.4 82.9 L77.2 82.0 L77.7 80.9 L78.5 80.0" stroke="#8f8c8d" stroke-width="0.42"/>
<path d="M49.2 108.6 L50.0 107.6 L50.7 106.5 L50.5 104.9 L51.9 104.1 L52.5 103.0" stroke="#8f8c8d" stroke-width="0.49"/>
<path d="M73.1 109.0 L74.1 107.6 L74.4 105.7 L75.0 104.0 L76.3 102.7 L77.3 101.3" stroke="#f7f6f6" stroke-width="1.15"/>
<path d="M65.8 75.3 L66.3 73.9 L66.8 72.4 L67.6 71.1 L68.7 70.0 L69.5 68.6" stroke="#f7f6f6" stroke-width="0.75"/>
<path d="M80.5 88.8 L81.3 88.0 L81.8 87.0 L81.9 85.9 L82.4 84.9 L83.0 84.0" stroke="#f7f6f6" stroke-width="0.82"/>
<path d="M66.5 109.7 L66.9 108.5 L67.6 107.5 L67.8 106.2 L68.3 105.1 L69.7 104.5" stroke="#f7f6f6" stroke-width="0.76"/>
<path d="M77.7 95.2 L78.0 94.2 L78.6 93.4 L78.6 92.3 L79.1 91.5 L80.4 91.0" stroke="#8f8c8d" stroke-width="0.47"/>
<path d="M59.6 88.6 L60.9 87.3 L61.5 85.7 L62.4 84.2 L63.4 82.7 L63.5 80.8" stroke="#f7f6f6" stroke-width="0.82"/>
<path d="M46.8 99.3 L47.5 98.7 L47.5 97.7 L48.4 97.2 L48.7 96.4 L48.4 95.2" stroke="#8f8c8d" stroke-width="0.45"/>
</g>
<g clip-path="url(#leafR)">
<path d="M73.7 89.1 L74.3 90.0 L74.6 91.1 L75.5 91.9 L76.4 92.6 L77.0 93.5" stroke="#f7f6f6" stroke-width="1.28"/>
<path d="M115.7 102.2 L116.1 103.0 L116.1 104.0 L116.6 104.7 L117.2 105.3 L118.3 105.6" stroke="#8f8c8d" stroke-width="0.53"/>
<path d="M85.3 106.6 L85.3 107.7 L85.7 108.5 L86.4 109.1 L87.2 109.6 L87.5 110.4" stroke="#8f8c8d" stroke-width="0.38"/>
<path d="M99.1 81.2 L99.9 81.8 L100.4 82.6 L101.1 83.3 L101.2 84.4 L102.2 84.8" stroke="#8f8c8d" stroke-width="0.40"/>
<path d="M72.4 85.9 L73.1 86.7 L73.6 87.6 L74.9 88.0 L75.2 89.1 L76.1 89.8" stroke="#8f8c8d" stroke-width="0.56"/>
<path d="M100.1 95.4 L101.1 96.2 L101.6 97.3 L102.7 98.0 L103.3 99.0 L104.2 99.9" stroke="#8f8c8d" stroke-width="0.49"/>
<path d="M77.0 88.0 L77.8 88.7 L78.4 89.7 L78.6 91.0 L79.6 91.6 L80.4 92.4" stroke="#f7f6f6" stroke-width="0.89"/>
<path d="M117.0 97.0 L117.4 99.1 L118.8 100.6 L120.3 101.9 L121.2 103.7 L122.5 105.2" stroke="#f7f6f6" stroke-width="0.82"/>
<path d="M78.1 97.9 L79.9 99.1 L80.9 100.8 L81.5 102.8 L83.4 104.0 L83.9 106.0" stroke="#f7f6f6" stroke-width="1.29"/>
<path d="M76.1 82.3 L76.9 83.2 L77.0 84.7 L77.9 85.5 L78.9 86.3 L79.4 87.4" stroke="#8f8c8d" stroke-width="0.40"/>
<path d="M108.1 87.0 L108.7 87.8 L109.7 88.4 L110.4 89.1 L111.0 90.0 L111.1 91.1" stroke="#f7f6f6" stroke-width="0.86"/>
<path d="M85.7 84.9 L86.8 86.1 L88.1 87.2 L89.1 88.5 L89.5 90.2 L90.7 91.4" stroke="#8f8c8d" stroke-width="0.36"/>
<path d="M107.7 99.0 L109.0 100.3 L110.5 101.5 L110.8 103.5 L112.2 104.7 L112.9 106.4" stroke="#f7f6f6" stroke-width="0.81"/>
<path d="M107.6 100.0 L108.0 101.0 L109.1 101.5 L109.2 102.6 L109.9 103.4 L110.4 104.2" stroke="#f7f6f6" stroke-width="1.13"/>
<path d="M92.3 110.0 L93.3 110.8 L93.6 112.0 L94.9 112.6 L94.9 114.0 L95.5 115.0" stroke="#f7f6f6" stroke-width="1.01"/>
<path d="M95.2 94.0 L96.3 94.3 L96.8 94.9 L97.3 95.6 L97.7 96.3 L97.7 97.3" stroke="#f7f6f6" stroke-width="0.76"/>
<path d="M109.5 92.3 L110.0 92.9 L110.5 93.6 L110.8 94.4 L111.8 94.7 L111.6 95.8" stroke="#8f8c8d" stroke-width="0.36"/>
<path d="M87.7 79.4 L88.7 80.4 L89.2 81.8 L90.2 82.8 L90.7 84.2 L91.3 85.5" stroke="#f7f6f6" stroke-width="1.04"/>
<path d="M111.2 93.4 L112.7 94.6 L113.7 96.0 L114.4 97.7 L115.6 99.0 L116.8 100.4" stroke="#8f8c8d" stroke-width="0.54"/>
<path d="M100.0 81.3 L100.2 82.6 L101.1 83.5 L101.7 84.5 L102.5 85.5 L103.1 86.5" stroke="#f7f6f6" stroke-width="1.01"/>
<path d="M93.8 115.9 L94.2 116.9 L95.1 117.7 L95.6 118.7 L96.6 119.3 L96.9 120.4" stroke="#f7f6f6" stroke-width="0.71"/>
<path d="M73.5 90.1 L74.8 91.4 L75.6 92.9 L76.5 94.4 L77.5 95.8 L79.2 96.7" stroke="#8f8c8d" stroke-width="0.42"/>
<path d="M106.4 93.4 L107.5 94.4 L108.6 95.4 L109.3 96.7 L110.2 97.9 L110.6 99.4" stroke="#f7f6f6" stroke-width="0.88"/>
<path d="M110.2 89.3 L111.4 90.2 L112.5 91.3 L113.2 92.7 L114.0 94.0 L115.2 95.0" stroke="#f7f6f6" stroke-width="0.78"/>
<path d="M94.2 83.2 L95.0 84.0 L95.3 85.2 L95.7 86.3 L96.6 87.1 L97.2 88.0" stroke="#8f8c8d" stroke-width="0.40"/>
<path d="M101.9 98.1 L102.8 99.3 L103.8 100.4 L104.7 101.5 L105.6 102.7 L106.1 104.1" stroke="#f7f6f6" stroke-width="1.05"/>
<path d="M89.4 72.8 L90.2 74.5 L91.3 76.0 L92.5 77.3 L93.0 79.3 L94.6 80.4" stroke="#8f8c8d" stroke-width="0.39"/>
<path d="M75.5 85.2 L76.0 86.5 L76.7 87.6 L77.2 88.9 L78.5 89.6 L79.1 90.8" stroke="#8f8c8d" stroke-width="0.53"/>
<path d="M92.7 77.4 L93.5 78.4 L94.0 79.5 L94.7 80.5 L95.7 81.3 L96.2 82.5" stroke="#8f8c8d" stroke-width="0.54"/>
<path d="M86.7 97.3 L88.3 98.2 L88.6 100.0 L90.3 100.8 L90.6 102.6 L91.7 103.9" stroke="#f7f6f6" stroke-width="1.28"/>
<path d="M99.8 92.9 L101.0 94.1 L102.2 95.4 L103.1 96.9 L104.1 98.3 L104.9 99.9" stroke="#f7f6f6" stroke-width="0.93"/>
<path d="M100.4 91.6 L101.1 92.6 L102.0 93.4 L102.8 94.3 L103.7 95.1 L104.2 96.2" stroke="#f7f6f6" stroke-width="1.05"/>
<path d="M110.2 86.1 L110.8 87.9 L111.9 89.5 L112.9 91.1 L114.6 92.2 L115.5 93.9" stroke="#8f8c8d" stroke-width="0.35"/>
<path d="M83.4 78.8 L84.3 79.8 L85.3 80.8 L85.7 82.2 L86.9 83.1 L87.7 84.2" stroke="#8f8c8d" stroke-width="0.45"/>
<path d="M89.6 89.6 L90.5 90.4 L91.3 91.3 L92.4 92.1 L92.8 93.2 L93.5 94.2" stroke="#8f8c8d" stroke-width="0.49"/>
<path d="M91.1 114.0 L91.7 115.2 L92.2 116.6 L93.5 117.3 L94.2 118.6 L94.7 119.9" stroke="#f7f6f6" stroke-width="0.89"/>
<path d="M97.7 114.2 L97.9 115.8 L98.8 116.8 L99.5 118.1 L100.2 119.3 L101.1 120.4" stroke="#f7f6f6" stroke-width="0.79"/>
<path d="M91.1 85.2 L91.9 86.3 L92.3 87.7 L93.2 88.9 L94.2 89.9 L94.5 91.4" stroke="#8f8c8d" stroke-width="0.36"/>
<path d="M85.3 95.1 L86.6 95.7 L87.0 96.8 L87.2 98.1 L88.1 98.9 L88.7 99.9" stroke="#f7f6f6" stroke-width="1.00"/>
<path d="M104.1 88.9 L104.6 90.5 L105.9 91.5 L106.9 92.7 L108.0 93.9 L108.9 95.2" stroke="#8f8c8d" stroke-width="0.38"/>
<path d="M96.3 72.3 L97.3 73.3 L97.9 74.6 L99.4 75.3 L100.2 76.5 L100.4 78.1" stroke="#f7f6f6" stroke-width="1.13"/>
<path d="M102.7 80.2 L102.7 81.5 L103.6 82.3 L104.4 83.1 L105.0 84.0 L105.7 84.9" stroke="#f7f6f6" stroke-width="1.23"/>
<path d="M84.2 104.3 L85.3 105.1 L86.2 106.1 L86.3 107.7 L87.1 108.8 L88.3 109.5" stroke="#8f8c8d" stroke-width="0.55"/>
<path d="M88.5 87.7 L89.2 89.5 L90.9 90.7 L91.9 92.4 L92.8 94.2 L94.3 95.5" stroke="#f7f6f6" stroke-width="1.23"/>
<path d="M87.3 97.3 L87.8 98.3 L88.5 99.1 L88.5 100.5 L89.7 101.0 L90.1 102.0" stroke="#f7f6f6" stroke-width="1.02"/>
<path d="M96.5 86.0 L96.5 87.2 L97.4 87.6 L98.0 88.3 L98.5 89.0 L98.9 89.7" stroke="#f7f6f6" stroke-width="0.72"/>
<path d="M104.3 94.2 L105.3 94.7 L105.8 95.6 L105.9 96.7 L107.0 97.1 L107.3 98.1" stroke="#8f8c8d" stroke-width="0.55"/>
<path d="M92.6 77.7 L93.1 79.4 L94.7 80.4 L95.0 82.2 L96.3 83.3 L97.5 84.5" stroke="#f7f6f6" stroke-width="0.78"/>
<path d="M107.7 93.9 L109.0 95.3 L110.2 96.8 L110.9 98.5 L112.3 99.8 L112.9 101.7" stroke="#f7f6f6" stroke-width="1.01"/>
<path d="M103.8 88.6 L104.6 90.2 L105.7 91.5 L106.9 92.8 L107.8 94.2 L109.0 95.5" stroke="#f7f6f6" stroke-width="1.21"/>
<path d="M87.0 89.5 L87.7 90.2 L88.2 91.0 L88.9 91.7 L89.6 92.3 L89.9 93.2" stroke="#f7f6f6" stroke-width="0.78"/>
<path d="M107.1 94.8 L107.9 95.8 L108.5 96.9 L109.3 98.0 L110.6 98.6 L111.3 99.7" stroke="#f7f6f6" stroke-width="1.11"/>
<path d="M104.0 94.4 L104.7 95.5 L105.8 96.3 L106.1 97.7 L107.2 98.5 L107.7 99.7" stroke="#f7f6f6" stroke-width="0.77"/>
<path d="M98.9 110.1 L99.9 111.4 L100.7 112.9 L101.7 114.2 L102.5 115.7 L103.4 117.1" stroke="#f7f6f6" stroke-width="0.89"/>
<path d="M108.6 90.0 L109.5 91.5 L110.9 92.7 L111.8 94.3 L112.6 95.9 L113.9 97.2" stroke="#f7f6f6" stroke-width="1.20"/>
<path d="M108.4 96.9 L109.0 97.4 L110.0 97.8 L110.3 98.6 L110.9 99.2 L110.8 100.3" stroke="#f7f6f6" stroke-width="1.25"/>
<path d="M114.0 91.6 L114.7 93.1 L115.5 94.5 L116.9 95.5 L118.0 96.7 L118.2 98.6" stroke="#f7f6f6" stroke-width="1.26"/>
<path d="M93.3 103.3 L94.4 104.6 L95.8 105.9 L96.3 107.7 L97.5 109.0 L98.5 110.6" stroke="#8f8c8d" stroke-width="0.38"/>
<path d="M115.2 91.3 L116.6 92.4 L117.3 93.9 L117.9 95.5 L119.1 96.6 L120.1 97.9" stroke="#f7f6f6" stroke-width="0.74"/>
<path d="M95.5 85.4 L96.2 86.2 L96.4 87.3 L97.0 88.2 L97.9 88.8 L98.5 89.6" stroke="#f7f6f6" stroke-width="0.97"/>
<path d="M110.1 103.4 L111.3 104.0 L111.7 105.1 L112.5 106.0 L112.8 107.2 L113.7 108.0" stroke="#8f8c8d" stroke-width="0.39"/>
<path d="M96.7 99.6 L97.4 100.8 L98.8 101.5 L99.4 102.7 L100.1 103.8 L101.0 104.9" stroke="#f7f6f6" stroke-width="0.87"/>
<path d="M83.4 86.0 L84.0 87.2 L84.7 88.4 L85.5 89.4 L86.4 90.4 L87.3 91.5" stroke="#f7f6f6" stroke-width="1.30"/>
<path d="M113.6 91.9 L114.9 93.0 L116.2 94.1 L116.9 95.7 L117.9 97.0 L119.0 98.2" stroke="#f7f6f6" stroke-width="0.70"/>
<path d="M101.0 109.0 L102.1 110.1 L103.3 111.1 L104.2 112.4 L105.2 113.6 L106.2 114.8" stroke="#8f8c8d" stroke-width="0.56"/>
<path d="M100.3 79.0 L101.1 80.4 L102.7 81.2 L103.1 82.8 L103.9 84.2 L104.9 85.4" stroke="#f7f6f6" stroke-width="0.81"/>
<path d="M108.7 99.0 L109.6 99.9 L109.9 101.2 L111.1 101.8 L112.0 102.8 L112.3 104.1" stroke="#8f8c8d" stroke-width="0.55"/>
<path d="M88.8 107.1 L89.9 108.7 L91.3 110.1 L92.3 111.7 L93.1 113.5 L94.7 114.8" stroke="#8f8c8d" stroke-width="0.39"/>
<path d="M81.2 99.6 L81.4 100.5 L82.1 101.1 L82.2 102.2 L83.3 102.5 L83.2 103.8" stroke="#8f8c8d" stroke-width="0.55"/>
<path d="M100.7 85.1 L101.7 86.3 L102.6 87.6 L103.5 89.0 L104.2 90.4 L105.0 91.8" stroke="#8f8c8d" stroke-width="0.39"/>
<path d="M93.1 84.0 L94.1 85.2 L95.0 86.3 L95.7 87.7 L96.4 88.9 L96.8 90.4" stroke="#8f8c8d" stroke-width="0.57"/>
<path d="M93.0 117.3 L94.5 118.1 L94.9 119.7 L95.8 120.9 L97.0 122.0 L97.6 123.4" stroke="#8f8c8d" stroke-width="0.47"/>
<path d="M105.0 92.9 L106.4 93.4 L106.9 94.5 L107.2 95.8 L108.1 96.6 L109.1 97.4" stroke="#8f8c8d" stroke-width="0.44"/>
<path d="M100.3 93.0 L101.2 94.0 L102.3 95.1 L103.1 96.3 L103.3 97.8 L104.4 98.8" stroke="#f7f6f6" stroke-width="1.22"/>
<path d="M102.5 75.4 L103.1 76.7 L103.9 77.9 L105.0 78.9 L105.5 80.3 L106.7 81.2" stroke="#f7f6f6" stroke-width="1.05"/>
<path d="M89.1 76.3 L89.3 77.3 L90.1 77.8 L90.4 78.7 L90.9 79.4 L91.9 79.8" stroke="#8f8c8d" stroke-width="0.53"/>
<path d="M77.4 85.6 L77.5 87.1 L78.5 87.9 L79.1 89.1 L80.3 89.7 L80.6 91.1" stroke="#f7f6f6" stroke-width="0.84"/>
<path d="M107.6 77.6 L108.4 78.9 L108.9 80.4 L110.0 81.5 L110.5 83.0 L111.6 84.1" stroke="#8f8c8d" stroke-width="0.49"/>
<path d="M94.4 113.5 L95.3 114.1 L95.6 115.1 L96.2 115.9 L96.7 116.8 L97.8 117.2" stroke="#f7f6f6" stroke-width="1.14"/>
<path d="M99.7 111.3 L100.6 111.7 L100.7 112.7 L101.0 113.5 L102.0 113.8 L101.8 115.0" stroke="#8f8c8d" stroke-width="0.41"/>
<path d="M90.5 80.9 L91.9 82.1 L93.0 83.5 L94.0 85.1 L94.4 86.9 L96.0 88.1" stroke="#8f8c8d" stroke-width="0.42"/>
<path d="M103.5 95.9 L104.3 96.5 L104.8 97.4 L105.2 98.2 L105.7 99.1 L107.0 99.4" stroke="#f7f6f6" stroke-width="0.79"/>
<path d="M85.4 99.5 L86.3 101.0 L86.8 102.8 L87.9 104.2 L89.2 105.5 L90.1 107.0" stroke="#f7f6f6" stroke-width="1.21"/>
<path d="M82.9 96.0 L83.6 97.4 L84.5 98.6 L84.9 100.2 L86.0 101.3 L87.3 102.2" stroke="#f7f6f6" stroke-width="0.92"/>
<path d="M93.1 92.5 L94.1 93.3 L94.4 94.7 L95.3 95.5 L96.3 96.4 L96.7 97.7" stroke="#8f8c8d" stroke-width="0.36"/>
<path d="M83.0 83.8 L83.5 84.8 L84.3 85.6 L84.7 86.7 L85.4 87.6 L85.7 88.8" stroke="#8f8c8d" stroke-width="0.36"/>
<path d="M89.2 99.7 L90.4 101.2 L91.4 102.7 L92.7 104.0 L93.8 105.5 L94.5 107.3" stroke="#8f8c8d" stroke-width="0.58"/>
<path d="M105.7 94.0 L106.9 95.3 L107.8 96.8 L109.0 98.0 L109.8 99.5 L110.9 100.9" stroke="#f7f6f6" stroke-width="0.90"/>
<path d="M77.6 96.2 L78.5 97.3 L79.3 98.4 L80.0 99.6 L81.0 100.6 L81.9 101.7" stroke="#8f8c8d" stroke-width="0.46"/>
<path d="M93.0 91.4 L93.7 92.3 L94.2 93.4 L94.9 94.4 L95.2 95.6 L96.0 96.4" stroke="#8f8c8d" stroke-width="0.44"/>
<path d="M103.5 107.3 L103.7 108.3 L103.8 109.3 L104.9 109.6 L105.0 110.6 L105.8 111.2" stroke="#8f8c8d" stroke-width="0.37"/>
<path d="M84.1 99.6 L84.9 100.4 L85.4 101.4 L86.0 102.4 L86.3 103.6 L87.3 104.2" stroke="#f7f6f6" stroke-width="0.82"/>
<path d="M87.9 102.7 L88.3 104.3 L89.1 105.7 L90.3 106.8 L91.6 107.8 L91.9 109.5" stroke="#8f8c8d" stroke-width="0.44"/>
<path d="M96.6 73.9 L97.6 74.9 L98.2 76.3 L99.6 77.0 L100.3 78.3 L100.8 79.7" stroke="#8f8c8d" stroke-width="0.45"/>
<path d="M105.0 94.5 L105.8 95.0 L105.8 96.0 L106.5 96.6 L106.9 97.4 L107.3 98.1" stroke="#f7f6f6" stroke-width="0.98"/>
<path d="M71.9 85.1 L73.5 85.8 L73.9 87.3 L74.7 88.6 L75.8 89.6 L76.9 90.7" stroke="#f7f6f6" stroke-width="0.79"/>
<path d="M114.3 92.2 L115.2 93.8 L116.2 95.2 L117.2 96.7 L118.2 98.2 L119.2 99.6" stroke="#f7f6f6" stroke-width="1.14"/>
<path d="M84.0 88.6 L85.3 89.7 L86.0 91.4 L86.8 92.9 L88.2 94.0 L89.3 95.3" stroke="#f7f6f6" stroke-width="1.26"/>
<path d="M101.9 69.9 L102.6 71.1 L103.7 72.0 L104.0 73.4 L105.4 74.1 L105.8 75.6" stroke="#f7f6f6" stroke-width="0.72"/>
<path d="M100.5 71.0 L101.6 71.9 L101.8 73.5 L103.1 74.3 L104.1 75.3 L104.9 76.5" stroke="#8f8c8d" stroke-width="0.58"/>
<path d="M102.3 71.1 L102.7 72.9 L104.1 74.0 L105.0 75.5 L106.2 76.8 L106.9 78.5" stroke="#f7f6f6" stroke-width="0.89"/>
<path d="M117.2 96.9 L117.7 98.6 L118.8 99.8 L119.4 101.5 L121.0 102.4 L121.6 104.0" stroke="#f7f6f6" stroke-width="1.25"/>
<path d="M102.7 109.1 L103.3 109.9 L103.7 110.9 L104.5 111.7 L105.2 112.5 L105.3 113.7" stroke="#8f8c8d" stroke-width="0.42"/>
<path d="M116.0 102.1 L116.3 103.8 L117.1 105.0 L118.4 105.9 L118.9 107.3 L119.7 108.6" stroke="#f7f6f6" stroke-width="0.90"/>
<path d="M84.0 99.7 L84.6 100.5 L85.3 101.2 L85.8 102.1 L86.1 103.1 L87.2 103.5" stroke="#8f8c8d" stroke-width="0.44"/>
<path d="M91.4 108.9 L91.9 109.8 L93.0 110.2 L93.8 110.9 L94.4 111.8 L94.2 113.1" stroke="#f7f6f6" stroke-width="1.25"/>
<path d="M81.3 85.2 L81.4 86.3 L82.4 86.7 L82.7 87.6 L82.8 88.7 L83.5 89.3" stroke="#8f8c8d" stroke-width="0.59"/>
<path d="M93.0 71.3 L94.5 72.4 L95.1 74.1 L96.3 75.4 L97.2 76.9 L98.5 78.2" stroke="#f7f6f6" stroke-width="1.29"/>
<path d="M80.6 93.8 L81.5 94.4 L81.8 95.3 L82.5 95.9 L82.6 97.0 L83.6 97.5" stroke="#8f8c8d" stroke-width="0.48"/>
<path d="M91.1 76.5 L92.3 77.3 L93.3 78.4 L93.4 80.0 L94.3 81.1 L95.2 82.1" stroke="#f7f6f6" stroke-width="0.81"/>
<path d="M103.3 75.4 L103.9 76.0 L104.2 76.8 L104.9 77.4 L105.7 77.9 L105.6 79.0" stroke="#8f8c8d" stroke-width="0.49"/>
<path d="M91.2 97.7 L92.5 99.3 L93.9 100.7 L95.1 102.3 L96.1 104.0 L96.8 105.9" stroke="#f7f6f6" stroke-width="0.93"/>
<path d="M104.9 81.4 L105.5 83.4 L106.4 85.2 L108.1 86.4 L109.0 88.3 L110.3 89.8" stroke="#f7f6f6" stroke-width="0.82"/>
<path d="M76.7 86.7 L78.4 87.7 L78.9 89.5 L80.2 90.7 L81.0 92.3 L82.0 93.7" stroke="#f7f6f6" stroke-width="1.28"/>
<path d="M77.3 80.7 L78.3 82.3 L79.0 84.0 L80.6 85.1 L81.4 86.8 L82.3 88.3" stroke="#f7f6f6" stroke-width="1.13"/>
<path d="M92.6 89.2 L93.8 90.2 L94.4 91.6 L95.4 92.9 L96.5 93.9 L97.1 95.4" stroke="#f7f6f6" stroke-width="1.25"/>
<path d="M88.9 95.7 L89.9 96.7 L90.8 97.8 L91.0 99.4 L92.1 100.4 L92.9 101.6" stroke="#f7f6f6" stroke-width="1.19"/>
<path d="M99.7 76.6 L100.6 78.2 L101.4 79.8 L102.4 81.3 L103.5 82.7 L105.2 83.7" stroke="#f7f6f6" stroke-width="1.20"/>
<path d="M114.6 94.5 L115.3 95.2 L115.7 96.2 L115.9 97.2 L116.6 97.9 L117.3 98.6" stroke="#f7f6f6" stroke-width="0.94"/>
<path d="M101.7 112.3 L102.2 113.6 L103.0 114.7 L104.2 115.4 L104.6 116.8 L105.6 117.7" stroke="#f7f6f6" stroke-width="0.84"/>
<path d="M98.1 84.2 L98.7 85.3 L99.1 86.6 L100.3 87.3 L100.9 88.4 L101.2 89.7" stroke="#f7f6f6" stroke-width="0.89"/>
<path d="M80.1 90.5 L80.5 91.4 L81.5 91.8 L81.9 92.6 L82.1 93.6 L82.7 94.2" stroke="#f7f6f6" stroke-width="0.73"/>
<path d="M98.8 87.3 L99.6 88.7 L100.4 90.2 L101.2 91.6 L102.5 92.7 L103.4 94.1" stroke="#8f8c8d" stroke-width="0.58"/>
<path d="M75.1 91.6 L75.8 93.1 L77.1 94.2 L78.2 95.4 L78.6 97.2 L79.9 98.3" stroke="#f7f6f6" stroke-width="1.00"/>
<path d="M97.6 110.5 L98.1 111.1 L98.6 111.8 L98.8 112.7 L99.6 113.1 L100.0 113.8" stroke="#8f8c8d" stroke-width="0.46"/>
<path d="M95.3 92.1 L96.3 93.6 L97.6 94.8 L98.9 96.1 L99.4 97.9 L100.5 99.3" stroke="#8f8c8d" stroke-width="0.54"/>
<path d="M95.2 73.9 L96.3 74.2 L96.8 74.9 L96.8 76.1 L97.5 76.7 L98.4 77.1" stroke="#8f8c8d" stroke-width="0.53"/>
<path d="M108.8 82.2 L109.6 83.6 L110.2 85.2 L111.3 86.4 L112.2 87.8 L113.7 88.7" stroke="#f7f6f6" stroke-width="1.01"/>
<path d="M70.5 85.8 L71.1 86.7 L71.8 87.6 L71.9 88.9 L72.8 89.6 L73.5 90.5" stroke="#f7f6f6" stroke-width="0.73"/>
<path d="M80.4 93.4 L81.9 94.5 L83.0 95.9 L84.1 97.2 L84.7 99.0 L85.9 100.3" stroke="#f7f6f6" stroke-width="0.99"/>
<path d="M102.1 91.8 L102.5 93.7 L103.9 94.9 L105.3 96.0 L106.1 97.6 L106.9 99.2" stroke="#f7f6f6" stroke-width="1.04"/>
<path d="M98.8 81.4 L99.5 83.1 L100.4 84.6 L101.6 85.9 L102.7 87.3 L103.3 89.0" stroke="#f7f6f6" stroke-width="1.23"/>
<path d="M88.2 75.9 L88.4 77.6 L90.0 78.5 L90.4 80.0 L91.7 81.1 L92.0 82.8" stroke="#8f8c8d" stroke-width="0.55"/>
<path d="M91.0 95.4 L92.0 96.7 L92.4 98.4 L93.9 99.3 L94.2 101.0 L95.7 102.0" stroke="#f7f6f6" stroke-width="0.76"/>
<path d="M89.1 110.7 L90.2 111.5 L90.4 113.0 L91.3 113.9 L92.5 114.7 L93.3 115.7" stroke="#8f8c8d" stroke-width="0.36"/>
<path d="M109.7 98.8 L110.6 99.5 L111.0 100.6 L111.9 101.2 L111.9 102.5 L113.0 103.1" stroke="#8f8c8d" stroke-width="0.39"/>
<path d="M89.1 111.5 L89.5 112.7 L90.1 113.9 L91.1 114.7 L91.6 115.9 L92.7 116.7" stroke="#f7f6f6" stroke-width="1.14"/>
<path d="M88.8 93.6 L90.0 93.9 L89.8 95.2 L90.3 96.0 L90.9 96.7 L91.8 97.2" stroke="#f7f6f6" stroke-width="0.91"/>
<path d="M102.2 99.9 L103.0 101.7 L103.7 103.5 L105.1 104.9 L106.2 106.4 L107.7 107.7" stroke="#f7f6f6" stroke-width="0.86"/>
<path d="M94.5 112.3 L95.8 112.6 L96.0 113.8 L96.3 114.9 L97.4 115.4 L97.5 116.7" stroke="#8f8c8d" stroke-width="0.36"/>
</g>
<g clip-path="url(#leafB)">
<path d="M69.9 119.6 L71.0 119.0 L72.1 119.5 L73.2 118.9 L74.2 118.6 L75.4 118.9" stroke="#f7f6f6" stroke-width="1.03"/>
<path d="M97.4 120.9 L98.8 121.2 L100.1 120.7 L101.5 121.1 L102.8 120.5 L104.2 120.8" stroke="#f7f6f6" stroke-width="0.92"/>
<path d="M88.9 109.5 L89.9 108.8 L90.9 109.3 L91.9 109.2 L92.9 108.7 L93.8 108.3" stroke="#f7f6f6" stroke-width="1.23"/>
<path d="M57.1 121.5 L58.5 121.7 L59.9 121.3 L61.4 121.5 L62.9 121.4 L64.3 121.1" stroke="#f7f6f6" stroke-width="0.94"/>
<path d="M61.3 110.8 L62.4 110.3 L63.5 110.6 L64.5 109.6 L65.7 110.5 L66.7 109.9" stroke="#8f8c8d" stroke-width="0.49"/>
<path d="M90.6 110.6 L92.3 110.5 L93.9 110.2 L95.7 110.4 L97.4 110.3 L99.0 110.0" stroke="#8f8c8d" stroke-width="0.37"/>
<path d="M84.0 111.9 L85.5 111.7 L87.0 110.9 L88.5 111.0 L90.0 111.2 L91.6 111.5" stroke="#f7f6f6" stroke-width="1.07"/>
<path d="M92.3 128.7 L93.5 128.3 L94.7 128.6 L95.9 127.6 L97.2 128.4 L98.3 127.8" stroke="#f7f6f6" stroke-width="0.75"/>
<path d="M65.3 128.0 L67.0 128.0 L68.5 127.7 L70.2 127.6 L71.8 127.5 L73.4 127.4" stroke="#8f8c8d" stroke-width="0.60"/>
<path d="M97.4 118.1 L98.8 118.2 L100.2 117.9 L101.6 117.6 L102.9 117.1 L104.3 117.4" stroke="#8f8c8d" stroke-width="0.55"/>
<path d="M56.2 128.3 L57.5 129.0 L58.6 128.6 L59.9 128.6 L61.0 127.8 L62.3 128.4" stroke="#8f8c8d" stroke-width="0.58"/>
<path d="M95.5 128.7 L97.3 128.4 L99.1 128.7 L100.8 128.5 L102.6 128.4 L104.3 127.7" stroke="#8f8c8d" stroke-width="0.48"/>
<path d="M105.7 106.5 L107.6 105.8 L109.6 106.2 L111.5 105.4 L113.4 105.2 L115.4 105.3" stroke="#f7f6f6" stroke-width="1.00"/>
<path d="M104.9 123.3 L106.5 123.5 L108.2 123.4 L109.8 123.2 L111.5 123.3 L113.1 123.0" stroke="#f7f6f6" stroke-width="0.75"/>
<path d="M90.0 129.3 L91.2 129.5 L92.4 129.3 L93.6 128.4 L94.8 128.8 L96.0 128.2" stroke="#f7f6f6" stroke-width="1.19"/>
<path d="M75.4 123.4 L76.7 123.2 L78.1 123.2 L79.5 123.5 L80.8 123.2 L82.1 122.8" stroke="#f7f6f6" stroke-width="0.86"/>
<path d="M91.9 117.5 L93.4 116.7 L95.1 117.1 L96.6 116.3 L98.2 117.0 L99.8 116.2" stroke="#f7f6f6" stroke-width="1.27"/>
<path d="M71.1 112.6 L72.9 112.7 L74.8 112.0 L76.6 112.0 L78.5 112.3 L80.4 111.7" stroke="#8f8c8d" stroke-width="0.40"/>
<path d="M98.8 107.7 L100.3 107.7 L101.8 108.4 L103.2 107.8 L104.6 108.0 L106.0 107.3" stroke="#f7f6f6" stroke-width="0.76"/>
<path d="M84.1 130.4 L85.5 130.9 L87.0 130.7 L88.3 130.3 L89.7 129.6 L91.2 130.1" stroke="#f7f6f6" stroke-width="1.27"/>
<path d="M72.2 125.4 L73.7 125.4 L75.3 125.4 L76.9 125.5 L78.4 125.0 L79.9 124.7" stroke="#8f8c8d" stroke-width="0.36"/>
<path d="M100.5 123.7 L102.0 123.9 L103.5 123.9 L104.9 123.6 L106.4 123.5 L107.8 122.6" stroke="#f7f6f6" stroke-width="0.78"/>
<path d="M108.1 129.4 L109.1 129.3 L110.0 128.7 L111.0 129.0 L112.0 129.2 L113.0 129.0" stroke="#f7f6f6" stroke-width="1.16"/>
<path d="M67.7 122.9 L68.9 122.5 L70.3 122.5 L71.5 122.3 L72.8 121.8 L74.2 122.3" stroke="#8f8c8d" stroke-width="0.52"/>
<path d="M65.8 111.4 L67.3 111.2 L68.8 110.6 L70.2 110.3 L71.8 110.6 L73.3 110.8" stroke="#f7f6f6" stroke-width="1.14"/>
<path d="M59.8 115.9 L60.7 115.9 L61.6 116.4 L62.4 116.3 L63.2 115.5 L64.1 115.5" stroke="#8f8c8d" stroke-width="0.40"/>
<path d="M69.1 118.9 L70.1 118.9 L71.0 118.8 L72.0 119.3 L72.8 118.5 L73.7 118.4" stroke="#8f8c8d" stroke-width="0.46"/>
<path d="M100.5 122.2 L102.2 121.8 L104.0 122.3 L105.7 121.9 L107.4 121.8 L109.2 121.7" stroke="#8f8c8d" stroke-width="0.42"/>
<path d="M72.9 133.0 L74.3 133.2 L75.7 132.7 L77.2 133.1 L78.6 132.2 L80.1 132.9" stroke="#8f8c8d" stroke-width="0.44"/>
<path d="M105.6 110.3 L106.8 110.6 L107.9 110.8 L109.0 110.6 L110.0 110.2 L111.1 110.5" stroke="#f7f6f6" stroke-width="0.88"/>
<path d="M89.9 133.4 L91.5 133.3 L93.0 132.8 L94.6 133.2 L96.1 132.9 L97.6 132.4" stroke="#f7f6f6" stroke-width="1.18"/>
<path d="M70.2 111.4 L72.0 111.3 L73.9 111.2 L75.7 111.3 L77.5 110.4 L79.4 110.4" stroke="#f7f6f6" stroke-width="0.95"/>
<path d="M81.1 130.6 L82.6 130.3 L84.2 130.3 L85.8 129.9 L87.5 130.3 L89.0 130.1" stroke="#8f8c8d" stroke-width="0.39"/>
<path d="M91.0 127.1 L92.3 127.0 L93.7 126.7 L95.1 126.7 L96.5 126.4 L97.9 126.5" stroke="#f7f6f6" stroke-width="1.12"/>
<path d="M92.4 121.9 L93.6 122.3 L94.8 122.4 L95.8 121.8 L97.0 121.6 L98.1 121.5" stroke="#f7f6f6" stroke-width="1.11"/>
<path d="M109.2 126.7 L110.4 126.0 L111.7 126.7 L112.8 126.0 L114.0 125.6 L115.3 126.1" stroke="#f7f6f6" stroke-width="0.87"/>
<path d="M53.5 121.0 L54.9 120.1 L56.5 120.8 L57.9 119.9 L59.3 119.9 L60.8 120.2" stroke="#f7f6f6" stroke-width="0.90"/>
<path d="M83.3 110.9 L85.1 111.4 L86.9 111.2 L88.6 110.8 L90.3 110.1 L92.1 110.7" stroke="#f7f6f6" stroke-width="1.00"/>
<path d="M74.3 107.6 L75.9 107.3 L77.4 107.0 L79.0 106.9 L80.5 106.9 L82.0 106.4" stroke="#8f8c8d" stroke-width="0.60"/>
<path d="M99.4 132.7 L100.5 131.7 L101.8 132.0 L102.9 131.5 L104.1 131.7 L105.4 131.9" stroke="#8f8c8d" stroke-width="0.46"/>
<path d="M69.7 111.3 L71.0 111.1 L72.3 111.6 L73.6 111.2 L74.8 111.1 L76.1 110.7" stroke="#8f8c8d" stroke-width="0.40"/>
<path d="M66.2 123.5 L67.8 123.1 L69.5 123.2 L71.1 123.0 L72.7 122.7 L74.3 122.5" stroke="#f7f6f6" stroke-width="0.82"/>
<path d="M51.9 133.5 L53.5 133.0 L55.2 133.0 L56.8 132.6 L58.5 133.0 L60.2 133.2" stroke="#f7f6f6" stroke-width="0.73"/>
<path d="M60.2 117.7 L62.1 117.2 L63.9 116.6 L65.8 116.5 L67.7 116.4 L69.6 116.8" stroke="#f7f6f6" stroke-width="1.29"/>
<path d="M105.4 127.0 L106.7 126.2 L108.1 126.0 L109.5 126.4 L110.8 126.2 L112.2 125.8" stroke="#f7f6f6" stroke-width="0.71"/>
<path d="M105.0 124.6 L106.9 123.9 L108.9 124.0 L110.8 123.5 L112.7 123.8 L114.7 123.6" stroke="#f7f6f6" stroke-width="0.71"/>
<path d="M63.1 123.6 L64.4 124.3 L65.7 124.1 L66.9 123.7 L68.1 123.2 L69.4 123.9" stroke="#f7f6f6" stroke-width="0.74"/>
<path d="M69.8 124.6 L71.6 124.6 L73.5 124.0 L75.3 123.9 L77.2 124.4 L79.0 123.7" stroke="#f7f6f6" stroke-width="1.05"/>
<path d="M56.9 113.1 L58.2 113.0 L59.6 113.0 L60.9 112.6 L62.2 112.1 L63.6 112.6" stroke="#f7f6f6" stroke-width="0.98"/>
<path d="M74.5 125.4 L76.2 125.7 L77.8 125.6 L79.4 125.2 L81.1 124.8 L82.8 125.4" stroke="#8f8c8d" stroke-width="0.37"/>
<path d="M65.6 135.8 L66.7 136.1 L67.8 136.1 L68.9 135.8 L70.0 135.8 L71.0 135.0" stroke="#f7f6f6" stroke-width="1.29"/>
<path d="M96.9 104.4 L97.8 105.0 L98.6 104.2 L99.5 104.6 L100.3 104.7 L101.2 104.4" stroke="#8f8c8d" stroke-width="0.42"/>
<path d="M58.0 107.0 L59.8 107.7 L61.4 107.3 L63.1 106.7 L64.9 107.1 L66.5 106.3" stroke="#f7f6f6" stroke-width="0.76"/>
<path d="M98.1 129.6 L100.1 130.3 L102.0 129.9 L103.9 130.0 L105.7 129.5 L107.6 129.4" stroke="#8f8c8d" stroke-width="0.55"/>
<path d="M53.6 108.7 L55.0 108.7 L56.4 108.1 L58.0 108.8 L59.3 107.9 L60.9 108.6" stroke="#8f8c8d" stroke-width="0.46"/>
<path d="M57.8 126.4 L58.8 126.0 L59.9 126.8 L60.9 126.2 L62.0 125.9 L63.0 125.6" stroke="#8f8c8d" stroke-width="0.56"/>
<path d="M99.8 106.1 L101.0 106.4 L102.2 105.7 L103.5 106.0 L104.8 106.3 L106.0 106.0" stroke="#f7f6f6" stroke-width="0.74"/>
<path d="M57.4 127.8 L58.9 127.6 L60.4 127.4 L62.0 127.5 L63.5 127.4 L65.0 127.5" stroke="#8f8c8d" stroke-width="0.55"/>
<path d="M105.5 127.5 L107.2 128.0 L108.9 128.0 L110.5 127.4 L112.2 127.7 L113.8 126.9" stroke="#8f8c8d" stroke-width="0.46"/>
<path d="M91.7 111.4 L92.8 111.3 L94.0 110.9 L95.2 111.2 L96.4 111.6 L97.5 111.2" stroke="#8f8c8d" stroke-width="0.54"/>
<path d="M101.4 132.8 L103.1 132.6 L104.8 132.6 L106.5 132.1 L108.2 132.1 L109.9 132.7" stroke="#8f8c8d" stroke-width="0.43"/>
<path d="M96.9 127.1 L98.7 126.7 L100.6 126.1 L102.5 126.6 L104.3 126.0 L106.2 126.1" stroke="#f7f6f6" stroke-width="1.02"/>
<path d="M107.0 107.6 L108.4 107.4 L109.8 107.6 L111.2 107.0 L112.7 107.3 L114.1 107.0" stroke="#8f8c8d" stroke-width="0.37"/>
<path d="M62.2 114.7 L64.1 114.7 L66.0 115.0 L67.9 115.1 L69.7 114.2 L71.6 114.3" stroke="#8f8c8d" stroke-width="0.52"/>
<path d="M95.3 126.0 L96.4 125.7 L97.6 126.3 L98.6 125.7 L99.7 125.7 L100.9 126.3" stroke="#8f8c8d" stroke-width="0.50"/>
<path d="M89.6 121.9 L91.2 121.5 L92.8 121.4 L94.4 121.2 L96.1 121.4 L97.7 121.0" stroke="#f7f6f6" stroke-width="1.00"/>
<path d="M108.6 123.4 L109.7 122.7 L110.8 122.6 L111.9 122.7 L113.0 122.7 L114.2 122.8" stroke="#f7f6f6" stroke-width="1.14"/>
<path d="M56.9 135.4 L58.1 134.5 L59.4 135.2 L60.5 134.4 L61.8 135.0 L63.0 134.8" stroke="#8f8c8d" stroke-width="0.42"/>
<path d="M49.9 113.0 L51.8 113.3 L53.7 113.1 L55.5 113.0 L57.4 112.3 L59.3 112.1" stroke="#f7f6f6" stroke-width="1.29"/>
<path d="M73.4 124.9 L74.8 124.6 L76.3 124.4 L77.9 125.1 L79.3 124.3 L80.8 125.0" stroke="#f7f6f6" stroke-width="1.13"/>
<path d="M59.1 130.4 L60.2 130.4 L61.3 129.9 L62.4 130.0 L63.6 130.4 L64.6 129.8" stroke="#f7f6f6" stroke-width="1.16"/>
<path d="M62.7 112.2 L63.7 112.1 L64.8 112.3 L65.9 112.0 L67.0 112.3 L68.0 111.4" stroke="#8f8c8d" stroke-width="0.56"/>
<path d="M62.9 106.9 L64.2 107.2 L65.6 107.3 L66.8 106.6 L68.2 106.5 L69.5 106.7" stroke="#f7f6f6" stroke-width="0.84"/>
<path d="M75.4 108.8 L76.3 108.8 L77.2 109.2 L78.1 108.7 L78.9 108.2 L79.8 108.2" stroke="#8f8c8d" stroke-width="0.49"/>
<path d="M103.3 131.5 L105.2 132.2 L107.0 131.6 L108.8 131.1 L110.6 130.9 L112.5 131.5" stroke="#f7f6f6" stroke-width="0.75"/>
<path d="M67.1 134.1 L68.4 133.4 L69.8 133.6 L71.1 133.4 L72.4 133.1 L73.8 133.5" stroke="#f7f6f6" stroke-width="0.77"/>
<path d="M108.8 116.4 L109.9 117.0 L110.9 116.8 L111.9 116.2 L112.9 116.5 L114.0 116.7" stroke="#f7f6f6" stroke-width="0.84"/>
<path d="M80.2 122.8 L81.8 123.3 L83.4 123.3 L85.0 123.0 L86.5 122.9 L88.1 122.3" stroke="#8f8c8d" stroke-width="0.40"/>
<path d="M63.9 123.9 L65.8 123.9 L67.6 123.6 L69.6 123.8 L71.4 123.3 L73.3 123.2" stroke="#8f8c8d" stroke-width="0.50"/>
<path d="M106.0 114.3 L107.7 115.1 L109.2 114.2 L110.8 114.3 L112.4 114.2 L114.1 114.5" stroke="#f7f6f6" stroke-width="1.30"/>
<path d="M86.5 110.6 L88.3 111.2 L90.1 110.5 L91.9 110.1 L93.7 110.7 L95.5 109.9" stroke="#f7f6f6" stroke-width="0.91"/>
<path d="M88.8 104.5 L90.1 105.1 L91.3 104.1 L92.6 104.6 L93.8 104.2 L95.1 104.3" stroke="#8f8c8d" stroke-width="0.53"/>
<path d="M57.7 114.6 L58.6 113.7 L59.5 113.6 L60.5 113.9 L61.4 113.9 L62.4 114.1" stroke="#f7f6f6" stroke-width="0.84"/>
<path d="M60.3 124.2 L61.7 124.6 L63.0 124.2 L64.4 124.3 L65.7 124.3 L67.0 123.5" stroke="#8f8c8d" stroke-width="0.45"/>
<path d="M54.2 134.3 L55.2 134.5 L56.1 134.4 L57.1 135.0 L58.0 134.8 L58.9 134.3" stroke="#f7f6f6" stroke-width="1.21"/>
<path d="M98.7 122.6 L100.1 122.6 L101.6 122.9 L103.0 122.7 L104.4 122.8 L105.8 122.8" stroke="#8f8c8d" stroke-width="0.40"/>
<path d="M55.7 133.8 L57.2 134.2 L58.6 133.6 L60.1 133.4 L61.6 133.4 L63.1 133.5" stroke="#8f8c8d" stroke-width="0.37"/>
<path d="M94.8 122.6 L96.1 122.6 L97.4 121.7 L98.8 122.1 L100.2 122.2 L101.6 122.1" stroke="#8f8c8d" stroke-width="0.40"/>
<path d="M108.1 126.1 L109.3 126.5 L110.3 125.7 L111.4 125.8 L112.5 126.2 L113.6 126.1" stroke="#f7f6f6" stroke-width="1.14"/>
<path d="M72.0 125.2 L73.7 125.2 L75.4 125.0 L77.2 124.9 L78.9 124.6 L80.6 124.5" stroke="#f7f6f6" stroke-width="0.95"/>
<path d="M55.0 124.7 L56.9 124.4 L58.8 124.5 L60.7 124.1 L62.6 123.7 L64.6 123.8" stroke="#f7f6f6" stroke-width="1.11"/>
<path d="M59.4 118.1 L61.4 118.0 L63.3 117.7 L65.2 117.5 L67.2 117.4 L69.2 117.5" stroke="#f7f6f6" stroke-width="1.16"/>
<path d="M67.5 113.8 L69.3 113.9 L71.0 113.8 L72.8 113.4 L74.5 112.8 L76.3 112.5" stroke="#f7f6f6" stroke-width="1.14"/>
<path d="M65.2 108.0 L66.1 108.5 L66.8 107.7 L67.7 107.9 L68.5 107.8 L69.3 108.2" stroke="#8f8c8d" stroke-width="0.35"/>
<path d="M58.0 134.7 L60.0 134.7 L62.0 134.7 L63.9 134.3 L65.9 134.2 L67.9 134.1" stroke="#f7f6f6" stroke-width="0.73"/>
<path d="M54.3 112.2 L55.2 112.2 L56.0 111.7 L57.0 112.1 L57.9 112.0 L58.8 111.5" stroke="#f7f6f6" stroke-width="0.81"/>
<path d="M105.8 119.2 L106.7 119.7 L107.5 119.3 L108.4 119.6 L109.2 119.0 L110.1 119.5" stroke="#8f8c8d" stroke-width="0.37"/>
<path d="M84.4 110.6 L86.0 110.5 L87.6 109.8 L89.2 109.5 L90.9 109.9 L92.6 109.7" stroke="#f7f6f6" stroke-width="0.82"/>
<path d="M83.9 107.6 L85.4 107.5 L87.0 107.5 L88.6 107.5 L90.1 107.5 L91.6 106.7" stroke="#8f8c8d" stroke-width="0.41"/>
<path d="M67.9 125.4 L69.5 125.5 L71.1 124.7 L72.7 124.7 L74.4 124.9 L76.0 124.3" stroke="#f7f6f6" stroke-width="0.84"/>
<path d="M97.1 128.8 L98.8 128.5 L100.4 127.9 L102.0 127.7 L103.7 128.0 L105.3 127.2" stroke="#8f8c8d" stroke-width="0.37"/>
<path d="M53.1 123.2 L54.1 123.1 L55.0 122.6 L56.0 122.2 L57.0 122.0 L58.0 122.3" stroke="#f7f6f6" stroke-width="0.92"/>
<path d="M93.0 119.4 L94.7 119.2 L96.4 119.3 L98.2 119.3 L99.9 118.9 L101.6 119.2" stroke="#f7f6f6" stroke-width="0.89"/>
<path d="M79.2 126.3 L80.9 126.3 L82.6 126.6 L84.4 126.4 L86.1 126.0 L87.7 125.3" stroke="#f7f6f6" stroke-width="1.08"/>
<path d="M65.6 107.7 L67.5 106.8 L69.5 107.0 L71.5 106.9 L73.4 106.4 L75.4 106.0" stroke="#8f8c8d" stroke-width="0.54"/>
<path d="M75.1 107.5 L76.5 108.3 L77.7 107.3 L79.0 107.4 L80.3 107.8 L81.5 107.0" stroke="#f7f6f6" stroke-width="0.74"/>
<path d="M60.0 122.4 L61.8 122.2 L63.6 122.7 L65.4 122.2 L67.2 121.9 L68.9 121.5" stroke="#f7f6f6" stroke-width="1.28"/>
<path d="M56.5 115.2 L58.2 115.1 L59.8 114.5 L61.6 114.8 L63.2 114.3 L64.9 113.9" stroke="#f7f6f6" stroke-width="1.13"/>
<path d="M93.1 108.2 L94.0 107.2 L95.1 107.8 L96.1 107.3 L97.1 107.1 L98.1 107.0" stroke="#f7f6f6" stroke-width="1.29"/>
<path d="M59.9 132.1 L61.1 132.6 L62.3 132.1 L63.4 131.8 L64.6 131.9 L65.9 132.2" stroke="#8f8c8d" stroke-width="0.49"/>
<path d="M51.5 130.8 L53.0 130.8 L54.5 130.0 L56.0 130.4 L57.5 130.2 L59.0 129.5" stroke="#f7f6f6" stroke-width="0.92"/>
<path d="M70.9 116.9 L71.9 117.5 L72.7 116.9 L73.7 117.0 L74.6 117.2 L75.6 117.0" stroke="#f7f6f6" stroke-width="1.25"/>
<path d="M99.5 133.3 L101.2 133.2 L102.8 132.5 L104.5 132.8 L106.1 132.4 L107.8 132.7" stroke="#f7f6f6" stroke-width="1.02"/>
<path d="M71.1 130.8 L72.3 130.7 L73.5 130.6 L74.7 129.8 L75.9 130.5 L77.1 130.2" stroke="#8f8c8d" stroke-width="0.51"/>
<path d="M53.9 133.4 L55.4 133.1 L56.9 133.5 L58.3 133.3 L59.8 133.3 L61.2 132.5" stroke="#f7f6f6" stroke-width="0.85"/>
<path d="M55.7 117.2 L56.5 116.6 L57.3 116.4 L58.1 116.3 L59.0 116.9 L59.8 116.3" stroke="#f7f6f6" stroke-width="0.94"/>
<path d="M99.3 132.1 L100.5 132.3 L101.6 131.8 L102.8 132.1 L104.0 131.8 L105.1 131.3" stroke="#8f8c8d" stroke-width="0.49"/>
<path d="M56.7 124.7 L58.5 124.5 L60.2 124.3 L62.1 124.6 L63.8 124.2 L65.6 123.6" stroke="#f7f6f6" stroke-width="0.92"/>
<path d="M108.0 123.9 L108.8 122.9 L109.8 123.4 L110.8 123.1 L111.7 123.3 L112.7 123.0" stroke="#f7f6f6" stroke-width="1.01"/>
<path d="M99.9 126.7 L101.2 127.1 L102.4 127.0 L103.6 126.4 L104.8 126.9 L106.1 126.9" stroke="#f7f6f6" stroke-width="0.93"/>
<path d="M93.6 131.5 L94.7 131.5 L95.8 131.8 L96.8 131.2 L97.8 131.4 L98.9 131.3" stroke="#8f8c8d" stroke-width="0.39"/>
<path d="M108.6 132.8 L110.0 132.1 L111.6 132.7 L113.0 132.2 L114.5 132.3 L116.0 132.3" stroke="#f7f6f6" stroke-width="1.25"/>
<path d="M61.3 107.7 L62.7 107.6 L64.1 107.5 L65.5 106.9 L66.9 107.2 L68.3 106.7" stroke="#f7f6f6" stroke-width="1.08"/>
<path d="M97.9 115.9 L99.4 115.8 L101.0 115.8 L102.5 115.8 L104.0 115.6 L105.5 115.1" stroke="#f7f6f6" stroke-width="0.90"/>
<path d="M93.6 126.0 L94.7 126.2 L95.7 125.8 L96.9 126.1 L98.0 126.3 L99.0 125.5" stroke="#8f8c8d" stroke-width="0.53"/>
<path d="M95.4 124.8 L97.1 125.2 L98.8 125.2 L100.4 124.2 L102.1 124.9 L103.7 124.3" stroke="#f7f6f6" stroke-width="0.74"/>
<path d="M98.2 123.7 L99.2 123.8 L100.2 124.1 L101.1 123.3 L102.1 123.7 L103.0 123.1" stroke="#f7f6f6" stroke-width="0.80"/>
<path d="M74.9 123.7 L76.1 123.6 L77.2 123.4 L78.4 123.4 L79.6 123.4 L80.7 123.5" stroke="#f7f6f6" stroke-width="0.99"/>
<path d="M77.7 134.9 L79.0 134.3 L80.4 133.9 L81.8 134.2 L83.1 133.6 L84.5 133.5" stroke="#f7f6f6" stroke-width="1.12"/>
<path d="M107.7 114.6 L108.9 114.4 L110.1 114.6 L111.3 114.2 L112.5 113.9 L113.8 114.5" stroke="#8f8c8d" stroke-width="0.35"/>
<path d="M101.5 125.1 L102.7 125.3 L103.9 124.7 L105.1 124.6 L106.4 124.4 L107.6 124.5" stroke="#8f8c8d" stroke-width="0.53"/>
<path d="M106.0 107.4 L107.2 107.2 L108.4 106.9 L109.6 106.9 L110.9 106.5 L112.1 107.0" stroke="#f7f6f6" stroke-width="0.94"/>
<path d="M60.0 110.5 L61.8 109.5 L63.7 109.7 L65.6 109.7 L67.5 109.5 L69.3 109.2" stroke="#8f8c8d" stroke-width="0.44"/>
<path d="M83.0 132.6 L84.6 132.4 L86.1 132.3 L87.7 132.4 L89.3 132.4 L90.8 131.7" stroke="#f7f6f6" stroke-width="0.93"/>
<path d="M72.9 132.8 L74.3 132.8 L75.8 133.1 L77.2 132.3 L78.7 132.7 L80.0 132.0" stroke="#f7f6f6" stroke-width="0.74"/>
<path d="M97.3 107.4 L98.4 107.5 L99.5 107.9 L100.6 107.8 L101.7 107.9 L102.7 107.8" stroke="#8f8c8d" stroke-width="0.58"/>
<path d="M56.6 134.5 L57.9 135.0 L59.2 135.0 L60.5 134.4 L61.8 134.0 L63.2 134.6" stroke="#8f8c8d" stroke-width="0.50"/>
<path d="M107.3 103.3 L108.1 103.2 L109.0 103.8 L109.9 103.6 L110.7 103.0 L111.6 103.0" stroke="#f7f6f6" stroke-width="1.07"/>
<path d="M91.6 133.6 L92.8 133.0 L94.0 132.8 L95.2 132.6 L96.4 132.4 L97.7 133.1" stroke="#8f8c8d" stroke-width="0.53"/>
<path d="M59.7 112.0 L60.7 112.3 L61.7 111.5 L62.7 111.9 L63.7 112.0 L64.6 111.2" stroke="#f7f6f6" stroke-width="1.17"/>
<path d="M84.4 118.3 L86.2 117.8 L88.1 117.7 L90.0 118.1 L91.8 117.9 L93.7 117.8" stroke="#8f8c8d" stroke-width="0.39"/>
<path d="M60.2 117.7 L61.9 118.4 L63.5 118.2 L65.1 117.8 L66.7 117.2 L68.4 117.8" stroke="#f7f6f6" stroke-width="1.10"/>
<path d="M84.8 126.9 L86.1 126.8 L87.4 126.7 L88.6 126.2 L89.9 125.8 L91.2 125.8" stroke="#f7f6f6" stroke-width="1.24"/>
<path d="M98.3 127.6 L100.0 127.1 L101.8 126.6 L103.6 126.9 L105.3 126.2 L107.1 126.4" stroke="#f7f6f6" stroke-width="1.21"/>
<path d="M78.7 112.9 L80.7 113.6 L82.6 113.3 L84.4 112.5 L86.4 112.9 L88.2 112.6" stroke="#8f8c8d" stroke-width="0.50"/>
<path d="M76.8 133.6 L77.7 132.9 L78.6 133.0 L79.5 132.7 L80.4 133.4 L81.3 132.9" stroke="#8f8c8d" stroke-width="0.41"/>
<path d="M94.2 123.2 L95.1 123.4 L96.0 122.8 L96.9 123.2 L97.8 122.7 L98.7 122.7" stroke="#8f8c8d" stroke-width="0.59"/>
<path d="M109.6 115.5 L111.1 115.3 L112.5 114.9 L114.0 115.2 L115.5 114.6 L117.0 115.0" stroke="#f7f6f6" stroke-width="0.77"/>
<path d="M93.9 107.6 L95.6 108.4 L97.2 107.8 L98.8 107.9 L100.4 107.2 L102.0 107.5" stroke="#f7f6f6" stroke-width="0.85"/>
<path d="M97.6 104.0 L99.0 104.6 L100.4 104.6 L101.7 103.6 L103.1 103.9 L104.4 103.8" stroke="#8f8c8d" stroke-width="0.53"/>
<path d="M71.7 133.4 L72.8 134.0 L73.8 133.2 L74.8 133.2 L75.8 133.4 L76.8 133.1" stroke="#f7f6f6" stroke-width="1.26"/>
<path d="M79.2 129.1 L80.3 128.3 L81.4 128.9 L82.5 128.5 L83.6 128.8 L84.7 128.5" stroke="#8f8c8d" stroke-width="0.48"/>
<path d="M101.1 116.9 L102.0 116.7 L102.9 116.5 L103.8 116.5 L104.7 115.9 L105.6 116.0" stroke="#8f8c8d" stroke-width="0.59"/>
<path d="M104.4 107.7 L106.0 107.4 L107.6 107.0 L109.2 106.9 L110.9 107.0 L112.5 106.9" stroke="#f7f6f6" stroke-width="0.92"/>
<path d="M83.9 127.2 L85.4 127.8 L86.9 127.1 L88.5 127.6 L90.0 127.5 L91.4 126.5" stroke="#8f8c8d" stroke-width="0.59"/>
<path d="M73.2 121.6 L74.4 121.6 L75.6 121.4 L76.8 121.5 L78.0 121.7 L79.1 121.6" stroke="#8f8c8d" stroke-width="0.52"/>
<path d="M72.9 134.2 L74.5 134.4 L76.1 134.0 L77.6 133.6 L79.2 133.7 L80.7 133.3" stroke="#8f8c8d" stroke-width="0.41"/>
<path d="M107.1 104.6 L107.9 104.1 L108.7 104.4 L109.5 103.9 L110.4 104.6 L111.2 104.3" stroke="#8f8c8d" stroke-width="0.58"/>
<path d="M109.8 122.3 L111.5 122.2 L113.2 122.4 L114.9 122.8 L116.5 122.0 L118.1 122.1" stroke="#f7f6f6" stroke-width="0.95"/>
<path d="M104.3 120.1 L106.1 120.1 L107.8 119.9 L109.7 120.4 L111.4 119.5 L113.2 120.2" stroke="#f7f6f6" stroke-width="1.23"/>
<path d="M80.5 114.5 L82.4 114.7 L84.3 113.9 L86.4 114.5 L88.3 114.4 L90.2 113.4" stroke="#8f8c8d" stroke-width="0.42"/>
<path d="M58.6 118.2 L60.2 118.1 L61.8 118.0 L63.4 117.5 L65.0 117.4 L66.5 116.8" stroke="#8f8c8d" stroke-width="0.49"/>
<path d="M72.6 132.3 L73.7 132.3 L74.8 132.2 L75.9 132.5 L77.1 132.6 L78.1 131.9" stroke="#f7f6f6" stroke-width="1.04"/>
<path d="M83.3 116.6 L84.8 116.5 L86.3 116.7 L87.7 116.4 L89.2 116.8 L90.6 116.2" stroke="#8f8c8d" stroke-width="0.41"/>
<path d="M55.6 121.3 L56.9 121.6 L58.1 121.0 L59.4 121.3 L60.7 121.3 L61.9 120.9" stroke="#f7f6f6" stroke-width="1.25"/>
<path d="M85.3 109.5 L86.2 109.7 L87.1 109.4 L88.0 109.8 L88.9 109.5 L89.8 109.3" stroke="#f7f6f6" stroke-width="1.26"/>
<path d="M63.8 110.8 L65.0 111.3 L66.2 111.0 L67.3 110.6 L68.4 110.3 L69.6 110.1" stroke="#f7f6f6" stroke-width="1.21"/>
<path d="M87.9 108.5 L89.5 108.8 L91.0 108.5 L92.5 108.2 L94.1 108.7 L95.7 108.5" stroke="#f7f6f6" stroke-width="0.80"/>
<path d="M89.9 116.7 L91.6 117.4 L93.1 116.3 L94.7 116.4 L96.3 116.5 L97.9 116.1" stroke="#f7f6f6" stroke-width="1.11"/>
<path d="M109.1 112.7 L110.2 112.1 L111.3 112.2 L112.4 112.4 L113.5 112.0 L114.6 111.7" stroke="#f7f6f6" stroke-width="1.03"/>
<path d="M110.4 130.0 L111.3 129.9 L112.2 129.5 L113.2 129.9 L114.1 129.7 L115.0 129.9" stroke="#f7f6f6" stroke-width="1.26"/>
<path d="M98.7 117.5 L99.7 117.1 L100.7 117.6 L101.6 117.5 L102.6 117.3 L103.6 117.6" stroke="#f7f6f6" stroke-width="1.13"/>
<path d="M96.9 106.4 L98.2 106.8 L99.4 106.9 L100.5 106.4 L101.7 106.6 L102.9 106.2" stroke="#8f8c8d" stroke-width="0.42"/>
<path d="M108.4 115.2 L109.2 115.8 L110.1 115.9 L110.8 115.6 L111.6 115.0 L112.5 115.7" stroke="#8f8c8d" stroke-width="0.38"/>
<path d="M73.3 125.3 L74.1 125.5 L74.9 126.0 L75.8 126.0 L76.5 125.3 L77.4 125.8" stroke="#8f8c8d" stroke-width="0.57"/>
<path d="M86.5 134.0 L88.1 133.5 L89.6 133.0 L91.2 133.2 L92.8 133.0 L94.3 132.7" stroke="#f7f6f6" stroke-width="1.01"/>
<path d="M84.5 111.3 L85.7 111.2 L86.8 111.0 L87.9 111.1 L89.0 110.5 L90.2 110.8" stroke="#f7f6f6" stroke-width="1.16"/>
<path d="M92.9 127.1 L94.4 127.6 L95.7 127.1 L97.1 126.8 L98.6 126.6 L100.0 126.6" stroke="#8f8c8d" stroke-width="0.55"/>
<path d="M79.6 127.0 L80.6 126.8 L81.6 126.6 L82.7 126.6 L83.8 126.9 L84.8 126.8" stroke="#f7f6f6" stroke-width="0.84"/>
<path d="M97.4 123.3 L99.0 123.2 L100.6 122.6 L102.2 122.3 L103.8 122.4 L105.4 122.0" stroke="#8f8c8d" stroke-width="0.48"/>
<path d="M91.4 132.8 L93.1 132.7 L94.9 132.4 L96.7 132.9 L98.4 132.7 L100.2 132.3" stroke="#f7f6f6" stroke-width="0.86"/>
<path d="M79.8 126.8 L81.7 126.6 L83.5 126.0 L85.4 125.8 L87.2 125.6 L89.2 126.1" stroke="#f7f6f6" stroke-width="0.79"/>
<path d="M68.0 133.6 L69.9 134.0 L71.7 133.8 L73.5 133.2 L75.2 132.8 L77.1 133.2" stroke="#f7f6f6" stroke-width="0.77"/>
<path d="M103.9 116.2 L105.2 115.7 L106.4 115.4 L107.7 115.6 L109.0 115.5 L110.2 115.0" stroke="#f7f6f6" stroke-width="1.16"/>
<path d="M70.5 125.9 L72.0 125.6 L73.6 126.1 L75.1 125.9 L76.6 125.5 L78.2 125.3" stroke="#8f8c8d" stroke-width="0.58"/>
<path d="M64.3 123.8 L65.7 123.4 L67.2 123.5 L68.8 123.7 L70.2 123.5 L71.7 123.3" stroke="#f7f6f6" stroke-width="0.83"/>
<path d="M68.5 118.9 L69.7 118.0 L71.0 118.8 L72.2 117.9 L73.5 118.4 L74.6 117.7" stroke="#8f8c8d" stroke-width="0.44"/>
<path d="M53.1 131.0 L54.9 131.4 L56.7 130.9 L58.5 131.3 L60.2 130.2 L62.0 130.4" stroke="#f7f6f6" stroke-width="1.07"/>
<path d="M97.5 128.7 L99.0 128.9 L100.4 128.1 L101.8 128.2 L103.3 128.5 L104.8 128.1" stroke="#8f8c8d" stroke-width="0.37"/>
<path d="M76.9 111.2 L77.7 111.1 L78.6 111.3 L79.4 111.3 L80.2 111.3 L80.9 111.0" stroke="#8f8c8d" stroke-width="0.48"/>
<path d="M107.9 107.6 L109.3 107.3 L110.8 107.7 L112.1 106.9 L113.6 107.5 L115.0 106.8" stroke="#f7f6f6" stroke-width="1.07"/>
<path d="M83.3 113.7 L84.1 113.0 L85.0 112.7 L85.9 113.1 L86.8 112.9 L87.7 112.6" stroke="#f7f6f6" stroke-width="1.21"/>
<path d="M70.1 118.2 L72.1 118.1 L74.0 117.7 L76.0 118.0 L77.9 117.9 L79.8 117.5" stroke="#f7f6f6" stroke-width="0.84"/>
<path d="M97.2 117.1 L99.0 117.3 L100.8 116.4 L102.6 116.5 L104.4 117.0 L106.2 116.6" stroke="#8f8c8d" stroke-width="0.47"/>
<path d="M77.6 111.2 L78.6 111.2 L79.5 110.7 L80.6 111.0 L81.5 110.4 L82.6 110.8" stroke="#f7f6f6" stroke-width="1.01"/>
<path d="M69.0 122.5 L70.0 122.5 L70.9 122.0 L71.9 122.0 L72.9 122.3 L73.8 122.1" stroke="#8f8c8d" stroke-width="0.54"/>
<path d="M83.6 111.7 L84.9 111.3 L86.2 111.3 L87.5 110.8 L88.8 110.8 L90.2 111.2" stroke="#8f8c8d" stroke-width="0.51"/>
<path d="M56.8 125.8 L57.6 125.8 L58.5 125.5 L59.3 124.9 L60.1 125.5 L60.9 124.7" stroke="#8f8c8d" stroke-width="0.48"/>
<path d="M52.1 134.5 L53.4 134.3 L54.7 134.0 L56.1 134.2 L57.3 133.4 L58.7 134.0" stroke="#f7f6f6" stroke-width="0.72"/>
<path d="M69.1 108.0 L69.9 107.4 L70.8 107.4 L71.7 107.4 L72.6 107.4 L73.5 107.9" stroke="#8f8c8d" stroke-width="0.57"/>
</g>
</g>
<path d="M82.2 78.8 Q83 88 83 95.4 Q83.6 97 85.6 97.8 Q95 102.6 103.2 108.6 Q94 105.6 85.2 101 Q83 100.4 81.4 101.6 Q73 108.8 59.2 120.3 Q67 111.5 75.8 99.8 Q79.4 97.4 80.3 95 Q80.8 86 82.2 78.8Z" fill="#6a1014" stroke="#5a0e12" stroke-width="0.35"/>

<!-- valve 2 -->
<path d="M162 71.2 L214.5 93.8 L210.4 104 L162.4 80.6 Q159.2 78.5 159.6 75 Q160.3 71.5 162 71.2Z" fill="url(#tg3)" stroke="#a54e47" stroke-width="0.5"/>
<ellipse cx="221.3" cy="104.9" rx="44.2" ry="41.7" fill="url(#ring)" stroke="#ad554c" stroke-width="0.7"/>
<ellipse cx="221.5" cy="105.3" rx="35.8" ry="33.5" fill="url(#inner2)" stroke="#a9544c" stroke-width="0.9"/>
<path d="M278.6 75.4 L257 81.6 L259.4 90.8 L281.7 83.6 Q283.6 80.5 282 77.2 Q280.5 75.2 278.6 75.4Z" fill="url(#tg4)" stroke="#a54e47" stroke-width="0.5"/>
<path d="M197.5 86.5 Q200 81.5 205 81.6 Q209.5 83 209 88.5 Q208 92 205 93 Q200.5 91 197.5 86.5Z" fill="#fff"/>
<path d="M190.5 99.5 Q192.5 95.5 196.5 97 Q199.5 100 199.2 104 Q195.5 106 192 104.2Z" fill="#fff"/>
<clipPath id="in2"><ellipse cx="221.5" cy="105.3" rx="35.3" ry="33"/></clipPath><g clip-path="url(#in2)"><path d="M162 71.2 L214.5 93.8 L210.4 104 L162.4 80.6Z" fill="url(#tg3)" stroke="#a54e47" stroke-width="0.5"/></g>

<path d="M238.8 78.0 C241.4 78.3 245.2 79.1 247.6 80.8 C250.0 82.5 251.6 85.3 253.0 88.4 C254.4 91.5 255.7 95.8 256.3 99.4 C256.9 103.1 257.1 106.7 256.9 110.3 C256.7 113.9 256.8 117.7 255.2 121.3 C253.6 124.9 250.7 129.5 247.6 132.2 C244.5 134.9 240.8 136.6 236.6 137.7 C232.4 138.8 227.0 139.2 222.4 138.8 C217.8 138.4 212.3 137.5 209.2 135.5 C206.1 133.5 204.5 129.7 203.8 126.8 C203.1 123.9 203.8 121.3 204.9 118.0 C206.0 114.7 208.3 111.0 210.3 107.0 C212.3 103.0 214.3 97.7 216.9 93.9 C219.5 90.1 223.1 86.5 225.7 84.0 C228.2 81.5 230.0 80.1 232.2 79.1 C234.4 78.1 236.2 77.7 238.8 78.0Z" fill="#f3cfc8" stroke="#b4645d" stroke-width="0.6"/>
<path d="M238.2 80.4 C240.6 80.7 244.1 81.4 246.3 83.0 C248.5 84.6 249.9 87.2 251.3 90.0 C252.6 92.9 253.7 96.8 254.3 100.1 C254.9 103.5 255.0 106.8 254.9 110.2 C254.7 113.5 254.7 116.9 253.3 120.3 C251.9 123.6 249.2 127.8 246.3 130.3 C243.5 132.8 240.1 134.4 236.2 135.4 C232.3 136.4 227.3 136.7 223.1 136.4 C218.9 136.0 213.8 135.2 211.0 133.3 C208.1 131.5 206.7 128.0 206.0 125.3 C205.4 122.7 206.0 120.3 207.0 117.2 C208.0 114.2 210.2 110.8 212.0 107.1 C213.8 103.4 215.7 98.6 218.1 95.1 C220.4 91.5 223.8 88.2 226.2 86.0 C228.5 83.7 230.1 82.4 232.1 81.5 C234.2 80.5 235.9 80.2 238.2 80.4Z" fill="none" stroke="#f9e0da" stroke-width="1.2"/>
<path d="M237.6 83.2 C239.7 83.4 242.9 84.1 244.9 85.5 C246.8 86.9 248.1 89.2 249.3 91.8 C250.5 94.4 251.5 97.9 252.1 100.9 C252.6 104.0 252.7 107.0 252.6 110.0 C252.4 113.0 252.5 116.1 251.2 119.1 C249.9 122.2 247.4 125.9 244.9 128.2 C242.3 130.4 239.2 131.8 235.7 132.7 C232.2 133.6 227.7 134.0 223.9 133.6 C220.2 133.3 215.6 132.6 213.0 130.9 C210.4 129.2 209.1 126.1 208.5 123.7 C207.9 121.3 208.5 119.1 209.4 116.4 C210.3 113.6 212.2 110.6 213.9 107.3 C215.6 103.9 217.3 99.6 219.4 96.4 C221.5 93.2 224.6 90.2 226.7 88.2 C228.8 86.1 230.3 84.9 232.1 84.1 C233.9 83.3 235.4 82.9 237.6 83.2Z" fill="url(#graft)" stroke="#b87872" stroke-width="0.6"/>
<filter id="blv" x="-20%" y="-20%" width="140%" height="140%"><feGaussianBlur stdDeviation="0.9"/></filter><path d="M226 93 Q222 105 217 119 M240 93 Q245 100 247 107 M224 127 Q235 124 245 118" fill="none" stroke="#e0b0aa" stroke-width="2.6" opacity="0.55" filter="url(#blv)"/>
<path d="M233.9 86.2 Q233.2 99 233.3 109.8 M233.3 109.8 Q240 110.5 246.5 113.6 M233.3 109.8 Q222 119 213.1 127.9" fill="none" stroke="#6e2e2c" stroke-width="0.8"/>
<path d="M233.4 105.8 L236.6 111 L230.2 112.8Z" fill="#5c1618"/>

<path d="M215.5 93 L212.8 95.2 M214.8 96 L211.4 97.6 M213.6 99 L210.2 100.4 M212.4 101.8 L209.2 103.4 M211.2 104.2 L208.6 105.6" stroke="#5d2a26" stroke-width="0.45" fill="none"/>

<!--VALVES_END-->
<!-- KM survival chart -->
<g id="km">
<rect x="84.5" y="165.3" width="163.5" height="117" fill="#e2f1f4"/>
<!-- very light region -->
<path d="M86 168 L244 168 L244 204.5 Q225 201.5 212 199.5 L200 196 Q180 191 168 188.5 L160 186.2 Q140 182 120 179 L100 176 Q92 174.5 86 173.5Z" fill="#eaf5fa"/>
<!-- blue band -->
<path d="M86 169 H107 V170 H137 V171 H152 V172.3 H244 V197.5 H241.3 V195 H222 V192.8 H212.2 V189 H205.3 V186.6 H190.4 V184.7 H173.7 V181.6 H160 V180 H151.4 V178.5 H136.7 V176.5 H113.4 V174.5 H107 V173.2 H86Z" fill="#c7dcec"/>
<!-- red band -->
<path d="M86 168.2 H107 V168.8 H150 V169.4 H179.3 V170.2 H220.2 V171.3 H243.8 V186.6 H230.1 V179.8 H220.2 V176 H179.3 V173.5 H150 V172.8 H126.3 V172 H107 V170.8 H86Z" fill="#f6c1b1"/>
<path d="M86 169.7 H107 V171 H136.7 V172.2 H151.4 V174.6 H160 V175.4 H173.7 V178.1 H190.4 V179.1 H205.3 V180.4 H209 V182.2 H212.2 V183.2 H222 V185.3 H241.3 V186.6 H243.8 V187.8" fill="none" stroke="#4a95d6" stroke-width="1"/>
<path d="M86 168.5 H107 V169.4 H126.3 V170.3 H179.3 V171.4 H220.2 V173.2 H230.1 V175.4 H243.8" fill="none" stroke="#e8604a" stroke-width="1"/>
<!-- axes -->
<line x1="84" y1="164.8" x2="84" y2="283" stroke="#6f7474" stroke-width="1.3"/>
<line x1="83.4" y1="282.4" x2="248.6" y2="282.4" stroke="#6f7474" stroke-width="1.3"/>
<g stroke="#6f7474" stroke-width="0.9">
<line x1="80.6" y1="169" x2="84" y2="169"/>
<line x1="80.6" y1="196.6" x2="84" y2="196.6"/>
<line x1="80.6" y1="224.2" x2="84" y2="224.2"/>
<line x1="80.6" y1="251.6" x2="84" y2="251.6"/>
<line x1="80.6" y1="279" x2="84" y2="279"/>
<line x1="87.5" y1="282.4" x2="87.5" y2="285.5"/>
<line x1="126.8" y1="282.4" x2="126.8" y2="285.5"/>
<line x1="166.3" y1="282.4" x2="166.3" y2="285.5"/>
<line x1="205.5" y1="282.4" x2="205.5" y2="285.5"/>
<line x1="245.6" y1="282.4" x2="245.6" y2="285.5"/>
</g>
<g font-size="6.5" fill="#4a4a4a" text-anchor="end" stroke="#4a4a4a" stroke-width="0.12">
<text x="80.2" y="171.3">100</text>
<text x="80.2" y="198.9">75</text>
<text x="80.2" y="226.5">50</text>
<text x="80.2" y="253.9">25</text>
<text x="80.2" y="281.3">0</text>
</g>
<g font-size="6.5" fill="#4a4a4a" text-anchor="middle" stroke="#4a4a4a" stroke-width="0.12">
<text x="87.5" y="291.3">0</text>
<text x="126.8" y="291.3">5</text>
<text x="166.3" y="291.3">10</text>
<text x="206" y="291.3">15</text>
<text x="246.4" y="291.3">20</text>
</g>
<text x="147.9" y="299.8" font-size="6.5" fill="#3a3a3a" textLength="35.5" lengthAdjust="spacingAndGlyphs" stroke="#3a3a3a" stroke-width="0.12">Time (Years)</text>
<text transform="translate(67.4,241.5) rotate(-90)" font-size="6.6" fill="#3a3a3a" textLength="35.6" lengthAdjust="spacingAndGlyphs" stroke="#3a3a3a" stroke-width="0.12">Survival (%)</text>
<text x="139" y="215.5" font-size="5.3" font-weight="bold" fill="#333" textLength="20.3" lengthAdjust="spacingAndGlyphs" stroke="#333" stroke-width="0.12">10 Years</text>
<text x="187.7" y="215.5" font-size="5.3" font-weight="bold" fill="#333" textLength="20.3" lengthAdjust="spacingAndGlyphs" stroke="#333" stroke-width="0.12">20 Years</text>
<text x="115.7" y="223.8" font-size="5.3" fill="#e8604a" textLength="12" lengthAdjust="spacingAndGlyphs" stroke="#e8604a" stroke-width="0.12">Ross:</text>
<text x="89.2" y="230.8" font-size="5.3" fill="#4a95d6" textLength="38.5" lengthAdjust="spacingAndGlyphs" stroke="#4a95d6" stroke-width="0.12">Mechanical AVR:</text>
<g font-size="5.3" fill="#3a3a3a" stroke="#3a3a3a" stroke-width="0.12">
<text x="130.8" y="223.8" textLength="39" lengthAdjust="spacingAndGlyphs">98% (96-100%)</text>
<text x="180.7" y="223.8" textLength="36.1" lengthAdjust="spacingAndGlyphs">94% (89-99%)</text>
<text x="131" y="230.8" textLength="37" lengthAdjust="spacingAndGlyphs">94% (90-98%)</text>
<text x="181" y="230.8" textLength="34.3" lengthAdjust="spacingAndGlyphs">84% (76-91%)</text>
</g>
<text x="87.7" y="275.8" font-size="5.4" fill="#3a3a3a" textLength="80" lengthAdjust="spacingAndGlyphs" stroke="#3a3a3a" stroke-width="0.12">Klein and Moeschberger p = 0.018</text>
</g>
<text x="1" y="310.3" font-size="4.6" font-weight="bold" fill="#222" textLength="117.6" lengthAdjust="spacingAndGlyphs" stroke="#222" stroke-width="0.12">Buratto, E. et al. J Am Coll Cardiol. 2018;71(12):1337-44.</text>

<!--B_START-->
<path d="M363.2 130.6 L363.2 130.6 L388.7 130.6 L388.7 130.3 L409.1 130.3 L409.1 129.6 L437.2 129.6 L437.2 128.0 L447.4 128.0 L447.4 126.5 L455.1 126.5 L455.1 124.9 L461.5 124.9 L461.5 123.0 L465.3 123.0 L465.3 120.5 L488.9 120.5 L488.9 128.6 L465.3 128.6 L465.3 129.6 L461.5 129.6 L461.5 130.4 L452.5 130.4 L452.5 130.9 L439.8 130.9 L439.8 131.1 L414.2 131.1 L414.2 131.2 L363.2 131.2Z" fill="#f4d0d3"/>
<path d="M363.2 130.6 V130.6 H388.7 V130.3 H409.1 V129.6 H437.2 V128.0 H447.4 V126.5 H455.1 V124.9 H461.5 V123.0 H465.3 V120.5 H488.9" fill="none" stroke="#e9a3a9" stroke-width="0.5"/>
<path d="M363.2 131.2 V131.2 H414.2 V131.1 H439.8 V130.9 H452.5 V130.4 H461.5 V129.6 H465.3 V128.6 H488.9" fill="none" stroke="#e9a3a9" stroke-width="0.5"/>
<path d="M363.2 131.0 V131.0 H388.7 V130.9 H409.1 V130.5 H439.8 V129.9 H446.1 V129.2 H452.5 V128.4 H461.5 V127.1 H465.3 V125.1 H488.9" fill="none" stroke="#d5505a" stroke-width="0.8"/>
<path d="M363.2 45.3 H490.8 V131.3" fill="none" stroke="#c8c8c8" stroke-width="0.7"/>
<line x1="363.2" y1="45.3" x2="363.2" y2="131.7" stroke="#a8a8a8" stroke-width="0.7"/>
<line x1="363.2" y1="131.3" x2="491.2" y2="131.3" stroke="#a8a8a8" stroke-width="0.7"/>
<g stroke="#b0b0b0" stroke-width="0.6"><line x1="361.2" y1="131.3" x2="363.2" y2="131.3"/><line x1="362.0" y1="122.7" x2="363.2" y2="122.7"/><line x1="361.2" y1="114.1" x2="363.2" y2="114.1"/><line x1="362.0" y1="105.5" x2="363.2" y2="105.5"/><line x1="361.2" y1="96.9" x2="363.2" y2="96.9"/><line x1="362.0" y1="88.3" x2="363.2" y2="88.3"/><line x1="361.2" y1="79.7" x2="363.2" y2="79.7"/><line x1="362.0" y1="71.1" x2="363.2" y2="71.1"/><line x1="361.2" y1="62.5" x2="363.2" y2="62.5"/><line x1="362.0" y1="53.9" x2="363.2" y2="53.9"/><line x1="361.2" y1="45.3" x2="363.2" y2="45.3"/><line x1="363.2" y1="131.3" x2="363.2" y2="133.1"/><line x1="369.6" y1="131.3" x2="369.6" y2="132.3"/><line x1="376.0" y1="131.3" x2="376.0" y2="133.1"/><line x1="382.3" y1="131.3" x2="382.3" y2="132.3"/><line x1="388.7" y1="131.3" x2="388.7" y2="133.1"/><line x1="395.1" y1="131.3" x2="395.1" y2="132.3"/><line x1="401.5" y1="131.3" x2="401.5" y2="133.1"/><line x1="407.9" y1="131.3" x2="407.9" y2="132.3"/><line x1="414.2" y1="131.3" x2="414.2" y2="133.1"/><line x1="420.6" y1="131.3" x2="420.6" y2="132.3"/><line x1="427.0" y1="131.3" x2="427.0" y2="133.1"/><line x1="433.4" y1="131.3" x2="433.4" y2="132.3"/><line x1="439.8" y1="131.3" x2="439.8" y2="133.1"/><line x1="446.1" y1="131.3" x2="446.1" y2="132.3"/><line x1="452.5" y1="131.3" x2="452.5" y2="133.1"/><line x1="458.9" y1="131.3" x2="458.9" y2="132.3"/><line x1="465.3" y1="131.3" x2="465.3" y2="133.1"/><line x1="471.7" y1="131.3" x2="471.7" y2="132.3"/><line x1="478.0" y1="131.3" x2="478.0" y2="133.1"/><line x1="484.4" y1="131.3" x2="484.4" y2="132.3"/><line x1="490.8" y1="131.3" x2="490.8" y2="133.1"/></g>
<g font-size="4.9" fill="#333" text-anchor="end" font-weight="bold" stroke="#333" stroke-width="0.12"><text x="359.9" y="133.6">0%</text><text x="359.9" y="116.4">20%</text><text x="359.9" y="99.2">40%</text><text x="359.9" y="82.0">60%</text><text x="359.9" y="64.8">80%</text><text x="359.9" y="47.6">100%</text></g>
<g font-size="5.6" fill="#222" text-anchor="middle" stroke="#222" stroke-width="0.12"><text x="363.2" y="139.3">0</text><text x="376.0" y="139.3">1</text><text x="388.7" y="139.3">2</text><text x="401.5" y="139.3">3</text><text x="414.2" y="139.3">4</text><text x="427.0" y="139.3">5</text><text x="439.8" y="139.3">6</text><text x="452.5" y="139.3">7</text><text x="465.3" y="139.3">8</text><text x="478.0" y="139.3">9</text><text x="490.8" y="139.3">10</text></g>
<text transform="translate(342.2,139.6) rotate(-90)" font-size="5.8" fill="#333" textLength="103.3" lengthAdjust="spacingAndGlyphs" stroke="#333" stroke-width="0.12">Cumulative incidence of ≥moderate AR</text>
<g font-size="5.6" fill="#222" text-anchor="middle" stroke="#222" stroke-width="0.12"><text x="322.7" y="146.9" text-anchor="start" textLength="33.6" lengthAdjust="spacingAndGlyphs">Patients at risk</text><text x="363.8" y="146.9">850</text><text x="376.6" y="146.9">784</text><text x="389.3" y="146.9">707</text><text x="402.1" y="146.9">600</text><text x="414.8" y="146.9">475</text><text x="427.6" y="146.9">371</text><text x="440.4" y="146.9">256</text><text x="453.1" y="146.9">128</text><text x="465.9" y="146.9">54</text><text x="478.6" y="146.9">14</text></g>
<text x="412.9" y="157.9" font-size="7.4" font-weight="bold" fill="#111" textLength="17.9" lengthAdjust="spacingAndGlyphs" stroke="#111" stroke-width="0.12">Years</text>
<text x="471.4" y="117.5" font-size="8.3" font-weight="bold" fill="#c0272d" textLength="17.2" lengthAdjust="spacingAndGlyphs" stroke="#c0272d" stroke-width="0.12">7.3%</text>
<path d="M550.3 132.4 L550.3 132.4 L569.5 132.4 L569.5 132.0 L595.1 132.0 L595.1 131.3 L620.6 131.3 L620.6 131.1 L639.8 131.1 L639.8 129.4 L652.6 129.4 L652.6 125.4 L677.3 125.4 L677.3 132.0 L652.6 132.0 L652.6 132.4 L639.8 132.4 L639.8 132.6 L595.1 132.6 L595.1 132.8 L550.3 132.8Z" fill="#f4d0d3"/>
<path d="M550.3 132.4 V132.4 H569.5 V132.0 H595.1 V131.3 H620.6 V131.1 H639.8 V129.4 H652.6 V125.4 H677.3" fill="none" stroke="#e9a3a9" stroke-width="0.5"/>
<path d="M550.3 132.8 V132.8 H595.1 V132.6 H639.8 V132.4 H652.6 V132.0 H677.3" fill="none" stroke="#e9a3a9" stroke-width="0.5"/>
<path d="M550.3 132.6 V132.6 H569.5 V132.4 H595.1 V132.0 H620.6 V131.8 H639.8 V131.2 H652.6 V129.3 H677.3" fill="none" stroke="#d5505a" stroke-width="0.8"/>
<path d="M550.3 46.3 H678.2 V132.8" fill="none" stroke="#c8c8c8" stroke-width="0.7"/>
<line x1="550.3" y1="46.3" x2="550.3" y2="133.2" stroke="#a8a8a8" stroke-width="0.7"/>
<line x1="550.3" y1="132.8" x2="678.6" y2="132.8" stroke="#a8a8a8" stroke-width="0.7"/>
<g stroke="#b0b0b0" stroke-width="0.6"><line x1="548.3" y1="132.8" x2="550.3" y2="132.8"/><line x1="549.1" y1="124.2" x2="550.3" y2="124.2"/><line x1="548.3" y1="115.5" x2="550.3" y2="115.5"/><line x1="549.1" y1="106.9" x2="550.3" y2="106.9"/><line x1="548.3" y1="98.2" x2="550.3" y2="98.2"/><line x1="549.1" y1="89.6" x2="550.3" y2="89.6"/><line x1="548.3" y1="80.9" x2="550.3" y2="80.9"/><line x1="549.1" y1="72.2" x2="550.3" y2="72.2"/><line x1="548.3" y1="63.6" x2="550.3" y2="63.6"/><line x1="549.1" y1="55.0" x2="550.3" y2="55.0"/><line x1="548.3" y1="46.3" x2="550.3" y2="46.3"/><line x1="550.3" y1="132.8" x2="550.3" y2="134.6"/><line x1="556.7" y1="132.8" x2="556.7" y2="133.8"/><line x1="563.1" y1="132.8" x2="563.1" y2="134.6"/><line x1="569.5" y1="132.8" x2="569.5" y2="133.8"/><line x1="575.9" y1="132.8" x2="575.9" y2="134.6"/><line x1="582.3" y1="132.8" x2="582.3" y2="133.8"/><line x1="588.7" y1="132.8" x2="588.7" y2="134.6"/><line x1="595.1" y1="132.8" x2="595.1" y2="133.8"/><line x1="601.5" y1="132.8" x2="601.5" y2="134.6"/><line x1="607.9" y1="132.8" x2="607.9" y2="133.8"/><line x1="614.2" y1="132.8" x2="614.2" y2="134.6"/><line x1="620.6" y1="132.8" x2="620.6" y2="133.8"/><line x1="627.0" y1="132.8" x2="627.0" y2="134.6"/><line x1="633.4" y1="132.8" x2="633.4" y2="133.8"/><line x1="639.8" y1="132.8" x2="639.8" y2="134.6"/><line x1="646.2" y1="132.8" x2="646.2" y2="133.8"/><line x1="652.6" y1="132.8" x2="652.6" y2="134.6"/><line x1="659.0" y1="132.8" x2="659.0" y2="133.8"/><line x1="665.4" y1="132.8" x2="665.4" y2="134.6"/><line x1="671.8" y1="132.8" x2="671.8" y2="133.8"/><line x1="678.2" y1="132.8" x2="678.2" y2="134.6"/></g>
<g font-size="4.9" fill="#333" text-anchor="end" font-weight="bold" stroke="#333" stroke-width="0.12"><text x="547.0" y="135.1">0%</text><text x="547.0" y="117.8">20%</text><text x="547.0" y="100.5">40%</text><text x="547.0" y="83.2">60%</text><text x="547.0" y="65.9">80%</text><text x="547.0" y="48.6">100%</text></g>
<g font-size="5.6" fill="#222" text-anchor="middle" stroke="#222" stroke-width="0.12"><text x="550.3" y="140.8">0</text><text x="563.1" y="140.8">1</text><text x="575.9" y="140.8">2</text><text x="588.7" y="140.8">3</text><text x="601.5" y="140.8">4</text><text x="614.2" y="140.8">5</text><text x="627.0" y="140.8">6</text><text x="639.8" y="140.8">7</text><text x="652.6" y="140.8">8</text><text x="665.4" y="140.8">9</text><text x="678.2" y="140.8">10</text></g>
<text transform="translate(530.4,139.0) rotate(-90)" font-size="5.8" fill="#333" textLength="100.0" lengthAdjust="spacingAndGlyphs" stroke="#333" stroke-width="0.12">Cumulative incidence of Reoperation</text>
<g font-size="5.6" fill="#222" text-anchor="middle" stroke="#222" stroke-width="0.12"><text x="509.8" y="148.1" text-anchor="start" textLength="33.6" lengthAdjust="spacingAndGlyphs">Patients at risk</text><text x="550.9" y="148.1">850</text><text x="563.7" y="148.1">784</text><text x="576.5" y="148.1">707</text><text x="589.3" y="148.1">600</text><text x="602.1" y="148.1">475</text><text x="614.9" y="148.1">371</text><text x="627.6" y="148.1">256</text><text x="640.4" y="148.1">128</text><text x="653.2" y="148.1">54</text><text x="666.0" y="148.1">14</text></g>
<text x="599.0" y="162.0" font-size="7.4" font-weight="bold" fill="#111" textLength="17.9" lengthAdjust="spacingAndGlyphs" stroke="#111" stroke-width="0.12">Years</text>
<text x="658.8" y="121.5" font-size="8.3" font-weight="bold" fill="#c0272d" textLength="17.2" lengthAdjust="spacingAndGlyphs" stroke="#c0272d" stroke-width="0.12">4.2%</text>
<!--B_END-->
<!--CD_START-->
<text x="135.3" y="341.5" font-size="16.4" font-weight="bold" fill="#000">C</text>
<rect x="5.9" y="356.1" width="261.9" height="15.7" fill="#5aa6dd"/>
<text x="106.4" y="366.6" font-size="6.4" font-weight="bold" fill="#fff" textLength="77.6" lengthAdjust="spacingAndGlyphs">Before Propensity Score Match</text>
<rect x="26.4" y="378.8" width="238.8" height="78.6" fill="#edf2fb"/>
<line x1="25.9" y1="378.2" x2="25.9" y2="457.4" stroke="#8a8f96" stroke-width="0.8"/>
<g stroke="#8a8f96" stroke-width="0.6"><line x1="23.8" y1="457.4" x2="25.9" y2="457.4"/><line x1="23.8" y1="449.5" x2="25.9" y2="449.5"/><line x1="23.8" y1="441.6" x2="25.9" y2="441.6"/><line x1="23.8" y1="433.7" x2="25.9" y2="433.7"/><line x1="23.8" y1="425.8" x2="25.9" y2="425.8"/><line x1="23.8" y1="417.9" x2="25.9" y2="417.9"/><line x1="23.8" y1="410.1" x2="25.9" y2="410.1"/><line x1="23.8" y1="402.2" x2="25.9" y2="402.2"/><line x1="23.8" y1="394.3" x2="25.9" y2="394.3"/><line x1="23.8" y1="386.4" x2="25.9" y2="386.4"/><line x1="23.8" y1="378.5" x2="25.9" y2="378.5"/></g>
<g font-size="5.4" fill="#444" text-anchor="end" stroke="#444" stroke-width="0.12"><text x="22" y="459.9">0</text><text x="22" y="452.0">2</text><text x="22" y="444.1">4</text><text x="22" y="436.2">6</text><text x="22" y="428.3">8</text><text x="22" y="420.4">10</text><text x="22" y="412.6">12</text><text x="22" y="404.7">14</text><text x="22" y="396.8">16</text><text x="22" y="388.9">18</text><text x="22" y="381.0">20</text></g>
<rect x="36.8" y="450.7" width="10.9" height="6.7" fill="#55a2dd"/>
<rect x="50.6" y="448.7" width="10.9" height="8.7" fill="#f0573f"/>
<text x="42.2" y="447.5" font-size="5.3" fill="#333" text-anchor="middle" stroke="#333" stroke-width="0.12">1.7</text>
<text x="56.1" y="445.5" font-size="5.3" fill="#333" text-anchor="middle" stroke="#333" stroke-width="0.12">2.2</text>
<text x="49.1" y="464.2" font-size="6.0" fill="#3a3a3a" text-anchor="middle" textLength="20.2" lengthAdjust="spacingAndGlyphs" stroke="#3a3a3a" stroke-width="0.12">Mortality</text>
<rect x="84.9" y="453.8" width="10.9" height="3.6" fill="#55a2dd"/>
<rect x="98.7" y="448.7" width="10.9" height="8.7" fill="#f0573f"/>
<text x="90.4" y="450.6" font-size="5.3" fill="#333" text-anchor="middle" stroke="#333" stroke-width="0.12">0.9</text>
<text x="104.2" y="445.5" font-size="5.3" fill="#333" text-anchor="middle" stroke="#333" stroke-width="0.12">2.2</text>
<text x="97.2" y="464.2" font-size="6.0" fill="#3a3a3a" text-anchor="middle" textLength="36.0" lengthAdjust="spacingAndGlyphs" stroke="#3a3a3a" stroke-width="0.12">Disabling Stroke</text>
<path d="M86.90 439.12 C86.90 437.52 87.50 436.22 89.50 436.22 H95.10 Q97.30 436.22 97.30 434.02 V431.12 M97.30 434.02 Q97.30 436.22 99.50 436.22 H105.10 C107.10 436.22 107.70 437.52 107.70 439.12" fill="none" stroke="#5a5a5a" stroke-width="0.75"/><text x="97.30" y="429.62" font-size="5" fill="#555" text-anchor="middle" stroke="#555" stroke-width="0.12">*</text>
<rect x="133.0" y="442.8" width="10.9" height="14.6" fill="#55a2dd"/>
<rect x="146.8" y="422.7" width="10.9" height="34.7" fill="#f0573f"/>
<text x="138.4" y="439.6" font-size="5.3" fill="#333" text-anchor="middle" stroke="#333" stroke-width="0.12">3.7</text>
<text x="152.2" y="419.5" font-size="5.3" fill="#333" text-anchor="middle" stroke="#333" stroke-width="0.12">8.8</text>
<text x="145.3" y="464.2" font-size="6.0" fill="#3a3a3a" text-anchor="middle" textLength="35.5" lengthAdjust="spacingAndGlyphs" stroke="#3a3a3a" stroke-width="0.12">New Pacemaker</text>
<path d="M135.00 413.08 C135.00 411.48 135.60 410.18 137.60 410.18 H143.20 Q145.40 410.18 145.40 407.98 V405.08 M145.40 407.98 Q145.40 410.18 147.60 410.18 H153.20 C155.20 410.18 155.80 411.48 155.80 413.08" fill="none" stroke="#5a5a5a" stroke-width="0.75"/><text x="145.40" y="403.58" font-size="5" fill="#555" text-anchor="middle" stroke="#555" stroke-width="0.12">*</text>
<rect x="181.1" y="455.8" width="10.9" height="1.6" fill="#55a2dd"/>
<rect x="194.9" y="452.7" width="10.9" height="4.7" fill="#f0573f"/>
<text x="186.6" y="452.6" font-size="5.3" fill="#333" text-anchor="middle" stroke="#333" stroke-width="0.12">0.4</text>
<text x="200.3" y="449.5" font-size="5.3" fill="#333" text-anchor="middle" stroke="#333" stroke-width="0.12">1.2</text>
<text x="193.4" y="464.2" font-size="6.0" fill="#3a3a3a" text-anchor="middle" textLength="15.0" lengthAdjust="spacingAndGlyphs" stroke="#3a3a3a" stroke-width="0.12">AR ≥2°</text>
<path d="M183.10 443.07 C183.10 441.47 183.70 440.17 185.70 440.17 H191.30 Q193.50 440.17 193.50 437.97 V435.07 M193.50 437.97 Q193.50 440.17 195.70 440.17 H201.30 C203.30 440.17 203.90 441.47 203.90 443.07" fill="none" stroke="#5a5a5a" stroke-width="0.75"/><text x="193.50" y="433.57" font-size="5" fill="#555" text-anchor="middle" stroke="#555" stroke-width="0.12">*</text>
<rect x="229.2" y="409.3" width="10.9" height="48.1" fill="#55a2dd"/>
<rect x="243.0" y="406.9" width="10.9" height="50.5" fill="#f0573f"/>
<text x="234.6" y="406.1" font-size="5.3" fill="#333" text-anchor="middle" stroke="#333" stroke-width="0.12">12.2</text>
<text x="248.4" y="403.7" font-size="5.3" fill="#333" text-anchor="middle" stroke="#333" stroke-width="0.12">12.8</text>
<text x="241.5" y="464.2" font-size="6.0" fill="#3a3a3a" text-anchor="middle" textLength="21.5" lengthAdjust="spacingAndGlyphs" stroke="#3a3a3a" stroke-width="0.12">MPG ≥20</text>
<line x1="25.5" y1="457.4" x2="266" y2="457.4" stroke="#8a8f96" stroke-width="0.8"/>
<text transform="translate(12.9,418.6) rotate(-90)" font-size="5.2" fill="#444" text-anchor="middle" textLength="32.0" lengthAdjust="spacingAndGlyphs" stroke="#444" stroke-width="0.12">Incidence (%)</text>
<rect x="5.9" y="483.8" width="261.9" height="16.0" fill="#5aa6dd"/>
<text x="100.1" y="493.9" font-size="6.4" font-weight="bold" fill="#fff" textLength="73.7" lengthAdjust="spacingAndGlyphs">After Propensity Score Match</text>
<rect x="26.4" y="507.4" width="238.8" height="102.8" fill="#edf2fb"/>
<line x1="25.9" y1="506.8" x2="25.9" y2="610.2" stroke="#8a8f96" stroke-width="0.8"/>
<g stroke="#8a8f96" stroke-width="0.6"><line x1="23.8" y1="610.2" x2="25.9" y2="610.2"/><line x1="23.8" y1="599.9" x2="25.9" y2="599.9"/><line x1="23.8" y1="589.6" x2="25.9" y2="589.6"/><line x1="23.8" y1="579.3" x2="25.9" y2="579.3"/><line x1="23.8" y1="569.0" x2="25.9" y2="569.0"/><line x1="23.8" y1="558.7" x2="25.9" y2="558.7"/><line x1="23.8" y1="548.3" x2="25.9" y2="548.3"/><line x1="23.8" y1="538.0" x2="25.9" y2="538.0"/><line x1="23.8" y1="527.7" x2="25.9" y2="527.7"/><line x1="23.8" y1="517.4" x2="25.9" y2="517.4"/><line x1="23.8" y1="507.1" x2="25.9" y2="507.1"/></g>
<g font-size="5.4" fill="#444" text-anchor="end" stroke="#444" stroke-width="0.12"><text x="22" y="612.7">0</text><text x="22" y="602.4">2</text><text x="22" y="592.1">4</text><text x="22" y="581.8">6</text><text x="22" y="571.5">8</text><text x="22" y="561.2">10</text><text x="22" y="550.8">12</text><text x="22" y="540.5">14</text><text x="22" y="530.2">16</text><text x="22" y="519.9">18</text><text x="22" y="509.6">20</text></g>
<rect x="36.8" y="600.9" width="10.9" height="9.3" fill="#55a2dd"/>
<rect x="50.6" y="598.9" width="10.9" height="11.3" fill="#f0573f"/>
<text x="42.2" y="597.7" font-size="5.3" fill="#333" text-anchor="middle" stroke="#333" stroke-width="0.12">1.8</text>
<text x="56.1" y="595.7" font-size="5.3" fill="#333" text-anchor="middle" stroke="#333" stroke-width="0.12">2.2</text>
<text x="49.1" y="616.9" font-size="6.0" fill="#3a3a3a" text-anchor="middle" textLength="20.2" lengthAdjust="spacingAndGlyphs" stroke="#3a3a3a" stroke-width="0.12">Mortality</text>
<rect x="84.9" y="604.0" width="10.9" height="6.2" fill="#55a2dd"/>
<rect x="98.7" y="597.8" width="10.9" height="12.4" fill="#f0573f"/>
<text x="90.4" y="600.8" font-size="5.3" fill="#333" text-anchor="middle" stroke="#333" stroke-width="0.12">1.2</text>
<text x="104.2" y="594.6" font-size="5.3" fill="#333" text-anchor="middle" stroke="#333" stroke-width="0.12">2.4</text>
<text x="97.2" y="616.9" font-size="6.0" fill="#3a3a3a" text-anchor="middle" textLength="36.0" lengthAdjust="spacingAndGlyphs" stroke="#3a3a3a" stroke-width="0.12">Disabling Stroke</text>
<path d="M86.50 579.83 C86.50 578.23 87.10 577.23 89.10 577.23 H92.70 Q94.90 577.23 94.90 575.03 V572.83 M94.90 575.03 Q94.90 577.23 97.10 577.23 H100.70 C102.70 577.23 103.30 578.23 103.30 579.83" fill="none" stroke="#5a5a5a" stroke-width="0.75"/><text x="94.90" y="570.23" font-size="5" fill="#555" text-anchor="middle" stroke="#555" stroke-width="0.12">*</text>
<rect x="133.0" y="589.1" width="10.9" height="21.1" fill="#55a2dd"/>
<rect x="146.8" y="563.3" width="10.9" height="46.9" fill="#f0573f"/>
<text x="138.4" y="585.9" font-size="5.3" fill="#333" text-anchor="middle" stroke="#333" stroke-width="0.12">4.1</text>
<text x="152.2" y="560.1" font-size="5.3" fill="#333" text-anchor="middle" stroke="#333" stroke-width="0.12">9.1</text>
<text x="145.3" y="616.9" font-size="6.0" fill="#3a3a3a" text-anchor="middle" textLength="35.5" lengthAdjust="spacingAndGlyphs" stroke="#3a3a3a" stroke-width="0.12">New Pacemaker</text>
<path d="M134.60 545.29 C134.60 543.69 135.20 542.69 137.20 542.69 H140.80 Q143.00 542.69 143.00 540.49 V538.29 M143.00 540.49 Q143.00 542.69 145.20 542.69 H148.80 C150.80 542.69 151.40 543.69 151.40 545.29" fill="none" stroke="#5a5a5a" stroke-width="0.75"/><text x="143.00" y="535.69" font-size="5" fill="#555" text-anchor="middle" stroke="#555" stroke-width="0.12">*</text>
<rect x="181.1" y="607.1" width="10.9" height="3.1" fill="#55a2dd"/>
<rect x="194.9" y="604.0" width="10.9" height="6.2" fill="#f0573f"/>
<text x="186.6" y="603.9" font-size="5.3" fill="#333" text-anchor="middle" stroke="#333" stroke-width="0.12">0.6</text>
<text x="200.3" y="600.8" font-size="5.3" fill="#333" text-anchor="middle" stroke="#333" stroke-width="0.12">1.2</text>
<text x="193.4" y="616.9" font-size="6.0" fill="#3a3a3a" text-anchor="middle" textLength="15.0" lengthAdjust="spacingAndGlyphs" stroke="#3a3a3a" stroke-width="0.12">AR ≥2°</text>
<rect x="229.2" y="559.7" width="10.9" height="50.5" fill="#55a2dd"/>
<rect x="243.0" y="539.1" width="10.9" height="71.1" fill="#f0573f"/>
<text x="234.6" y="556.5" font-size="5.3" fill="#333" text-anchor="middle" stroke="#333" stroke-width="0.12">9.8</text>
<text x="248.4" y="535.9" font-size="5.3" fill="#333" text-anchor="middle" stroke="#333" stroke-width="0.12">13.8</text>
<text x="241.5" y="616.9" font-size="6.0" fill="#3a3a3a" text-anchor="middle" textLength="21.5" lengthAdjust="spacingAndGlyphs" stroke="#3a3a3a" stroke-width="0.12">MPG ≥20</text>
<path d="M230.80 521.06 C230.80 519.46 231.40 518.46 233.40 518.46 H237.00 Q239.20 518.46 239.20 516.26 V514.06 M239.20 516.26 Q239.20 518.46 241.40 518.46 H245.00 C247.00 518.46 247.60 519.46 247.60 521.06" fill="none" stroke="#5a5a5a" stroke-width="0.75"/><text x="239.20" y="511.46" font-size="5" fill="#555" text-anchor="middle" stroke="#555" stroke-width="0.12">*</text>
<line x1="25.5" y1="610.2" x2="266" y2="610.2" stroke="#8a8f96" stroke-width="0.8"/>
<text transform="translate(12.9,566.0) rotate(-90)" font-size="5.2" fill="#444" text-anchor="middle" textLength="32.0" lengthAdjust="spacingAndGlyphs" stroke="#444" stroke-width="0.12">Incidence (%)</text>
<rect x="127" y="624.6" width="3.9" height="3.9" fill="#55a2dd"/>
<text x="132.2" y="628.4" font-size="5.3" fill="#444" textLength="9" lengthAdjust="spacingAndGlyphs" stroke="#444" stroke-width="0.12">CBV</text>
<rect x="149.1" y="624.6" width="3.9" height="3.9" fill="#f0573f"/>
<text x="154" y="628.4" font-size="5.3" fill="#444" textLength="9" lengthAdjust="spacingAndGlyphs" stroke="#444" stroke-width="0.12">RDV</text>
<text x="6.1" y="637.4" font-size="4.6" font-weight="bold" fill="#222" textLength="104.5" lengthAdjust="spacingAndGlyphs" stroke="#222" stroke-width="0.12">Eraninger, S. et al. J Am Coll Cardiol. 2018;71(13):1417-28.</text>
<text x="503.9" y="341.8" font-size="16.4" font-weight="bold" fill="#000">D</text>
<line x1="501" y1="364.3" x2="501" y2="571.5" stroke="#8c7fa6" stroke-width="0.8" stroke-dasharray="0.9,1.1"/>
<path d="M495.3 372.1 H381 M388.5 369.4 L380.8 372.1 L388.5 374.8" fill="none" stroke="#555" stroke-width="0.8"/>
<path d="M507 372.1 H620.8 M613.1 369.4 L620.8 372.1 L613.1 374.8" fill="none" stroke="#555" stroke-width="0.8"/>
<text x="390" y="388.7" font-size="6.45" fill="#1e1e1e" stroke="#1e1e1e" stroke-width="0.15" textLength="102.7" lengthAdjust="spacingAndGlyphs">average time shorter for FS patients</text>
<text x="509" y="388.7" font-size="6.45" fill="#1e1e1e" stroke="#1e1e1e" stroke-width="0.15" textLength="104.2" lengthAdjust="spacingAndGlyphs">average time shorter for MS patients</text>
<text x="314" y="424.6" font-size="6.5" fill="#1e1e1e" stroke="#1e1e1e" stroke-width="0.15">Time to discharge</text>
<path d="M460.8 422.3 H518.0 M460.8 419.7 V424.9 M518.0 419.7 V424.9" stroke="#333" stroke-width="0.75" fill="none"/>
<circle cx="485.6" cy="422.3" r="1.45" fill="#000"/>
<text x="589.8" y="424.6" font-size="6.45" fill="#1e1e1e" stroke="#1e1e1e" stroke-width="0.15" textLength="93.5" lengthAdjust="spacingAndGlyphs">0.874 (0.668, 1.143), p = 0.3246</text>
<text x="314" y="441.2" font-size="6.5" fill="#1e1e1e" stroke="#1e1e1e" stroke-width="0.15">Time until fit</text>
<path d="M463.2 438.9 H524.5 M463.2 436.3 V441.5 M524.5 436.3 V441.5" stroke="#333" stroke-width="0.75" fill="none"/>
<circle cx="489.6" cy="438.9" r="1.45" fill="#000"/>
<text x="589.8" y="441.2" font-size="6.45" fill="#1e1e1e" stroke="#1e1e1e" stroke-width="0.15" textLength="93.5" lengthAdjust="spacingAndGlyphs">0.907 (0.688, 1.197), p = 0.4914</text>
<text x="314" y="457.8" font-size="6.5" fill="#1e1e1e" stroke="#1e1e1e" stroke-width="0.15">Time to first extubation</text>
<path d="M459.2 455.5 H515.3 M459.2 452.9 V458.1 M515.3 452.9 V458.1" stroke="#333" stroke-width="0.75" fill="none"/>
<circle cx="483.4" cy="455.5" r="1.45" fill="#000"/>
<text x="589.8" y="457.8" font-size="6.45" fill="#1e1e1e" stroke="#1e1e1e" stroke-width="0.15" textLength="93.5" lengthAdjust="spacingAndGlyphs">0.856 (0.655, 1.120), p = 0.2582</text>
<text x="314" y="474.4" font-size="6.5" fill="#1e1e1e" stroke="#1e1e1e" stroke-width="0.15">Time to first mobilisation</text>
<path d="M462.2 472.1 H523.3 M462.2 469.5 V474.7 M523.3 469.5 V474.7" stroke="#333" stroke-width="0.75" fill="none"/>
<circle cx="488.6" cy="472.1" r="1.45" fill="#000"/>
<text x="589.8" y="474.4" font-size="6.45" fill="#1e1e1e" stroke="#1e1e1e" stroke-width="0.15" textLength="93.5" lengthAdjust="spacingAndGlyphs">0.899 (0.680, 1.187), p = 0.4518</text>
<text x="314" y="491.0" font-size="6.5" fill="#1e1e1e" stroke="#1e1e1e" stroke-width="0.15">Time to drain removal</text>
<path d="M433.6 488.7 H474.0 M433.6 486.1 V491.3 M474.0 486.1 V491.3" stroke="#333" stroke-width="0.75" fill="none"/>
<circle cx="451.0" cy="488.7" r="1.45" fill="#000"/>
<text x="589.8" y="491.0" font-size="6.45" fill="#1e1e1e" stroke="#1e1e1e" stroke-width="0.15" textLength="93.5" lengthAdjust="spacingAndGlyphs">0.587 (0.442, 0.778), p = 0.0002</text>
<text x="314" y="507.6" font-size="6.5" fill="#1e1e1e" stroke="#1e1e1e" stroke-width="0.15">Surgery duration</text>
<path d="M440.6 505.3 H485.4 M440.6 502.7 V507.9 M485.4 502.7 V507.9" stroke="#333" stroke-width="0.75" fill="none"/>
<circle cx="459.8" cy="505.3" r="1.45" fill="#000"/>
<text x="589.8" y="507.6" font-size="6.45" fill="#1e1e1e" stroke="#1e1e1e" stroke-width="0.15" textLength="93.5" lengthAdjust="spacingAndGlyphs">0.660 (0.500, 0.872), p = 0.0035</text>
<text x="314" y="524.2" font-size="6.5" fill="#1e1e1e" stroke="#1e1e1e" stroke-width="0.15">CPB time</text>
<path d="M434.3 521.9 H474.5 M434.3 519.3 V524.5 M474.5 519.3 V524.5" stroke="#333" stroke-width="0.75" fill="none"/>
<circle cx="451.6" cy="521.9" r="1.45" fill="#000"/>
<text x="589.8" y="524.2" font-size="6.45" fill="#1e1e1e" stroke="#1e1e1e" stroke-width="0.15" textLength="93.5" lengthAdjust="spacingAndGlyphs">0.592 (0.448, 0.782), p = 0.0002</text>
<text x="314" y="540.8" font-size="6.5" fill="#1e1e1e" stroke="#1e1e1e" stroke-width="0.15">Theatre time</text>
<path d="M440.9 538.5 H486.2 M440.9 535.9 V541.1 M486.2 535.9 V541.1" stroke="#333" stroke-width="0.75" fill="none"/>
<circle cx="460.4" cy="538.5" r="1.45" fill="#000"/>
<text x="589.8" y="540.8" font-size="6.45" fill="#1e1e1e" stroke="#1e1e1e" stroke-width="0.15" textLength="93.5" lengthAdjust="spacingAndGlyphs">0.665 (0.503, 0.879), p = 0.0042</text>
<text x="314" y="557.4" font-size="6.5" fill="#1e1e1e" stroke="#1e1e1e" stroke-width="0.15">Cross clamp time</text>
<path d="M421.3 555.1 H452.2 M421.3 552.5 V557.7 M452.2 552.5 V557.7" stroke="#333" stroke-width="0.75" fill="none"/>
<circle cx="434.6" cy="555.1" r="1.45" fill="#000"/>
<text x="589.8" y="557.4" font-size="6.45" fill="#1e1e1e" stroke="#1e1e1e" stroke-width="0.15" textLength="93.8" lengthAdjust="spacingAndGlyphs">0.451 (0.340, 0.597), p < 0.0001</text>
<path d="M380.3 578.9 H621.3 M380.3 578.9 V584 M410.4 578.9 V584 M440.6 578.9 V584 M470.7 578.9 V584 M500.8 578.9 V584 M530.9 578.9 V584 M561.0 578.9 V584 M591.2 578.9 V584 M621.3 578.9 V584" stroke="#555" stroke-width="0.75" fill="none"/>
<text x="380.3" y="599.2" font-size="6.45" fill="#1e1e1e" stroke="#1e1e1e" stroke-width="0.15" text-anchor="middle">0.00</text>
<text x="410.4" y="599.2" font-size="6.45" fill="#1e1e1e" stroke="#1e1e1e" stroke-width="0.15" text-anchor="middle">0.25</text>
<text x="440.6" y="599.2" font-size="6.45" fill="#1e1e1e" stroke="#1e1e1e" stroke-width="0.15" text-anchor="middle">0.50</text>
<text x="470.7" y="599.2" font-size="6.45" fill="#1e1e1e" stroke="#1e1e1e" stroke-width="0.15" text-anchor="middle">0.75</text>
<text x="500.8" y="599.2" font-size="6.45" fill="#1e1e1e" stroke="#1e1e1e" stroke-width="0.15" text-anchor="middle">1.00</text>
<text x="530.9" y="599.2" font-size="6.45" fill="#1e1e1e" stroke="#1e1e1e" stroke-width="0.15" text-anchor="middle">1.25</text>
<text x="561.0" y="599.2" font-size="6.45" fill="#1e1e1e" stroke="#1e1e1e" stroke-width="0.15" text-anchor="middle">1.50</text>
<text x="591.2" y="599.2" font-size="6.45" fill="#1e1e1e" stroke="#1e1e1e" stroke-width="0.15" text-anchor="middle">1.75</text>
<text x="621.3" y="599.2" font-size="6.45" fill="#1e1e1e" stroke="#1e1e1e" stroke-width="0.15" text-anchor="middle">2.00</text>
<text x="456.1" y="622.3" font-size="6.45" fill="#1e1e1e" stroke="#1e1e1e" stroke-width="0.15" textLength="90" lengthAdjust="spacingAndGlyphs">Hazard ratio (MS relative to FS)</text>
<!--CD_END-->
<!--B2_START-->
<text x="504.2" y="12.6" font-size="16.4" font-weight="bold" fill="#000">B</text>
<g fill="#111">
<rect x="416.9" y="26.1" width="1.8" height="12.3" rx="0.6"/>
<rect x="611" y="25.9" width="2" height="12.7" rx="0.6"/>
<rect x="615.9" y="25.9" width="2" height="12.7" rx="0.6"/>
<rect x="509.1" y="162" width="1.9" height="12.5" rx="0.6"/>
<rect x="514.1" y="162" width="1.9" height="12.5" rx="0.6"/>
<rect x="519.1" y="162" width="1.9" height="12.5" rx="0.6"/>
</g>
<text x="465.3" y="191.8" font-size="8" font-weight="bold" fill="#222" textLength="23.2" lengthAdjust="spacingAndGlyphs" stroke="#222" stroke-width="0.12">Raphe</text>
<text x="520.3" y="191.8" font-size="8" font-weight="bold" fill="#222" textLength="62.7" lengthAdjust="spacingAndGlyphs" stroke="#222" stroke-width="0.12">New commissure</text>
<text x="469.9" y="287.2" font-size="7.7" font-weight="bold" fill="#222" textLength="74.8" lengthAdjust="spacingAndGlyphs" stroke="#222" stroke-width="0.12">Existing commissure</text>
<!-- photo 1 -->
<defs>
<clipPath id="ph1"><rect x="436.5" y="197.5" width="75.3" height="78"/></clipPath>
<clipPath id="ph2"><rect x="513" y="197.5" width="72.3" height="78"/></clipPath>
<filter id="bl2" x="-20%" y="-20%" width="140%" height="140%"><feGaussianBlur stdDeviation="2"/></filter>
<filter id="bl1" x="-20%" y="-20%" width="140%" height="140%"><feGaussianBlur stdDeviation="0.8"/></filter>
</defs>
<g clip-path="url(#ph1)">
<rect x="436.5" y="197.5" width="75.3" height="78" fill="#dcc4bc"/>
<g filter="url(#bl1)">
<path d="M478 199 L514 199 L514 256 L496 256 L494 228 L484 212Z" fill="#bba79f"/>
<path d="M492 195 L514 195 L514 205 L500 203Z" fill="#6e5a56"/>
<path d="M434 195 L449 195 L436 205Z" fill="#3a2826"/>
<path d="M436 203 L458 196 L490 196 L478 206 L456 214 L436 226Z" fill="#e0c2ba"/>
<path d="M440 208 L465 200 L480 200 L462 209 L442 216Z" fill="#ecd4cc"/>
<ellipse cx="476" cy="238" rx="20" ry="24" fill="#e8d4cc"/>
<ellipse cx="455" cy="228" rx="5" ry="10" fill="#a08078"/>
<ellipse cx="476" cy="221" rx="3.5" ry="2.6" fill="#5a4242"/>
<ellipse cx="485" cy="246" rx="7" ry="9" fill="#dcc0b8"/>
<path d="M436 222 L448 222 L458 245 L466 262 L466 280 L436 280Z" fill="#f0e0da"/>
<ellipse cx="448" cy="262" rx="12" ry="13" fill="#f6ece8"/>
<ellipse cx="467" cy="248" rx="6" ry="3.4" fill="#3e2828"/>
<path d="M496 255 L514 252 L514 280 L490 280Z" fill="#4a3634"/>
<path d="M478 267 L496 266 L496 280 L478 280Z" fill="#6a5250"/>
</g>
<g fill="none" stroke-linecap="round" filter="url(#bl1)" opacity="0.8">
<path d="M452 214 Q448 232 455 250 Q460 258 468 256" stroke="#a88078" stroke-width="1.4"/>
<path d="M470 226 Q478 220 486 227 Q491 240 487 252 Q482 262 471 264" stroke="#bf9890" stroke-width="1.2"/>
<path d="M476 258 Q488 271 497 262" stroke="#9a7a72" stroke-width="1.2"/>
<path d="M462 214 Q468 208 476 212" stroke="#c8a69e" stroke-width="1"/>
</g>
<g fill="#ffffff" opacity="0.7">
<circle cx="470" cy="233" r="0.7"/><circle cx="474" cy="230" r="0.6"/><circle cx="462" cy="244" r="0.6"/><circle cx="480" cy="242" r="0.6"/><circle cx="458" cy="236" r="0.5"/><circle cx="484" cy="236" r="0.5"/>
</g>
<g stroke="#f4efea" stroke-width="0.75" fill="none" opacity="0.95">
<path d="M477.5 197 L471 218 M469.3 214.3 L471 218 L473.7 215"/>
<path d="M479.5 197 L497.5 228 M494 226 L497.5 228 L497.5 224"/>
<path d="M512 275.5 L466.5 260 M469.5 259.5 L466.5 260 L468.5 262.5"/>
</g>
</g>
<g clip-path="url(#ph2)">
<rect x="513" y="197.5" width="72.3" height="78" fill="#f5eeee"/>
<g filter="url(#bl1)">
<path d="M512 195 L520 195 L513 203Z" fill="#5a1c1c"/>
<path d="M548 195 L578 195 L578 212 L562 212 L552 206Z" fill="#3c2424"/>
<path d="M576 195 L590 195 L590 258 L574 258Z" fill="#eadad8"/>
<path d="M552 203 L578 214 L580 236 L572 256 L560 272 L538 274 L540 262 L556 240Z" fill="#ccd2e4"/>
<path d="M524.8 238 L529 222 L534 210 L544 202 L556 206 L566 214 L572 226 L566 244 L556 256 L548 262 L540 272 L532 270 L526 258Z" fill="#a33032"/>
<path d="M528 214 L538 207 L540 220 L531 226 Z" fill="#aab0c8"/>
<path d="M528 240 L536 233 L546 238 L548 256 L540 266 L532 262Z" fill="#b44a4a"/>
<path d="M552 226 L566 220 L570 236 L560 248 Z" fill="#b85c60"/>
<path d="M516 238 L521 236 L522 252 L518 250Z" fill="#901a1a"/>
<path d="M556 276 L566 258 L590 255 L590 280 L552 280Z" fill="#2e1c1e"/>
</g>
<g stroke="#ecd0d0" stroke-width="0.7" fill="none" opacity="0.9">
<path d="M526 238 Q536 229 546 236 Q551 250 560 250 Q570 244 577 232"/>
<path d="M540 204 Q549 212 550 228"/>
</g>
<g fill="#2a2a3a" opacity="0.55">
<circle cx="556" cy="209" r="0.8"/><circle cx="560" cy="213" r="0.8"/><circle cx="565" cy="217" r="0.8"/><circle cx="569" cy="222" r="0.8"/><circle cx="570" cy="240" r="0.8"/><circle cx="567" cy="246" r="0.8"/><circle cx="563" cy="252" r="0.8"/><circle cx="559" cy="258" r="0.8"/><circle cx="554" cy="263" r="0.8"/><circle cx="548" cy="267" r="0.8"/><circle cx="543" cy="270" r="0.8"/>
</g>
<g stroke="#f6f2f0" stroke-width="0.7" fill="none">
<path d="M549 197 L575.5 222.5"/>
</g>
</g>
<path d="M514 276.8 L528.6 270.3 M525.2 270.2 L528.6 270.3 L526.8 273.2" stroke="#333" stroke-width="0.7" fill="none"/>

<!--B2_END-->
</svg>
</body></html>
